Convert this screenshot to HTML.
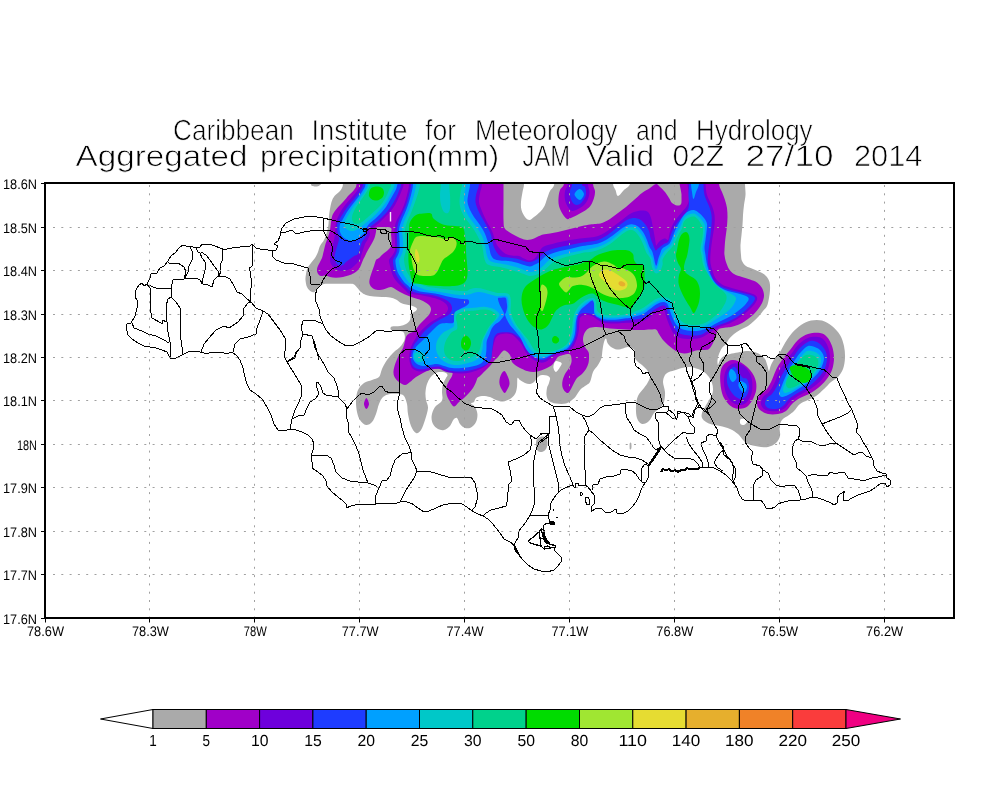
<!DOCTYPE html>
<html lang="en"><head><meta charset="utf-8"><title>Aggregated precipitation(mm) JAM</title>
<style>
html,body{margin:0;padding:0;background:#fff}
svg{display:block}
text{font-family:"Liberation Sans",sans-serif;fill:#000;text-rendering:geometricPrecision}
.ttl{stroke:#fff;stroke-width:.7px}
.lab{font-size:14px}
.cb{font-size:16px}
</style></head><body>
<svg width="1000" height="800" viewBox="0 0 1000 800">
<rect width="1000" height="800" fill="#fff"/>
<defs><filter id="nf" x="0" y="0" width="1000" height="800" filterUnits="userSpaceOnUse"><feOffset dx="0" dy="0"/></filter></defs>
<g filter="url(#nf)">
<text class="ttl" x="173" y="140" font-size="29" textLength="120.8" lengthAdjust="spacingAndGlyphs">Caribbean</text><text class="ttl" x="311.5" y="140" font-size="29" textLength="96.0" lengthAdjust="spacingAndGlyphs">Institute</text><text class="ttl" x="425" y="140" font-size="29" textLength="31.0" lengthAdjust="spacingAndGlyphs">for</text><text class="ttl" x="475" y="140" font-size="29" textLength="142.5" lengthAdjust="spacingAndGlyphs">Meteorology</text><text class="ttl" x="636" y="140" font-size="29" textLength="41.5" lengthAdjust="spacingAndGlyphs">and</text><text class="ttl" x="696" y="140" font-size="29" textLength="116.5" lengthAdjust="spacingAndGlyphs">Hydrology</text>
<text class="ttl" x="75.5" y="166.3" font-size="29.5" textLength="172.0" lengthAdjust="spacingAndGlyphs">Aggregated</text><text class="ttl" x="260" y="166.3" font-size="29.5" textLength="239.0" lengthAdjust="spacingAndGlyphs">precipitation(mm)</text><text class="ttl" x="522.5" y="166.3" font-size="29.5" textLength="47.5" lengthAdjust="spacingAndGlyphs">JAM</text><text class="ttl" x="586" y="166.3" font-size="29.5" textLength="68.0" lengthAdjust="spacingAndGlyphs">Valid</text><text class="ttl" x="672.5" y="166.3" font-size="29.5" textLength="51.5" lengthAdjust="spacingAndGlyphs">02Z</text><text class="ttl" x="745.5" y="166.3" font-size="29.5" textLength="88.0" lengthAdjust="spacingAndGlyphs">27/10</text><text class="ttl" x="854" y="166.3" font-size="29.5" textLength="68.5" lengthAdjust="spacingAndGlyphs">2014</text>
</g>
<defs><clipPath id="fr"><rect x="45" y="183" width="909" height="435"/></clipPath></defs>
<g clip-path="url(#fr)">
<path fill="#aaaaaa" d="M343.0,170.0C276.0,172.4 343.5,181.0 343.0,184.5C342.5,188.0 341.4,189.1 340.0,191.0C338.6,192.9 335.9,194.2 334.5,196.0C333.1,197.8 332.2,199.8 331.5,202.0C330.8,204.2 330.4,206.7 330.0,209.0C329.6,211.3 329.2,213.5 329.0,216.0C328.8,218.5 328.8,221.3 328.5,224.0C328.2,226.7 327.8,229.3 327.0,232.0C326.2,234.7 325.2,237.7 324.0,240.0C322.8,242.3 321.0,244.0 320.0,246.0C319.0,248.0 318.8,250.0 318.0,252.0C317.2,254.0 316.2,256.2 315.0,258.0C313.8,259.8 312.2,261.3 311.0,263.0C309.8,264.7 308.3,266.2 307.5,268.0C306.7,269.8 306.3,272.0 306.0,274.0C305.7,276.0 305.3,277.8 305.5,280.0C305.7,282.2 306.1,285.1 307.0,287.0C307.9,288.9 309.8,290.7 311.0,291.5C312.2,292.3 313.5,292.4 314.5,292.0C315.5,291.6 316.1,290.0 317.0,289.0C317.9,288.0 318.8,286.8 320.0,286.0C321.2,285.2 322.3,284.4 324.0,284.0C325.7,283.6 327.3,283.8 330.0,283.8C332.7,283.8 336.7,283.8 340.0,283.8C343.3,283.8 347.7,283.7 350.0,283.8C352.3,283.9 352.8,283.9 354.0,284.5C355.2,285.1 355.8,286.2 357.0,287.5C358.2,288.8 359.5,290.8 361.0,292.0C362.5,293.2 363.8,294.2 366.0,295.0C368.2,295.8 371.3,296.2 374.0,296.5C376.7,296.8 379.3,296.8 382.0,297.0C384.7,297.2 387.7,297.1 390.0,297.5C392.3,297.9 394.2,298.6 396.0,299.5C397.8,300.4 399.3,302.2 401.0,303.0C402.7,303.8 404.3,304.1 406.0,304.5C407.7,304.9 409.5,305.1 411.0,305.5C412.5,305.9 414.0,306.4 415.0,307.0C416.0,307.6 417.0,308.2 417.0,309.0C417.0,309.8 416.0,310.7 415.0,311.5C414.0,312.3 411.8,312.6 411.0,314.0C410.2,315.4 410.8,318.3 410.0,320.0C409.2,321.7 407.7,323.0 406.0,324.0C404.3,325.0 402.3,325.6 400.0,326.0C397.7,326.4 393.6,326.0 392.0,326.5C390.4,327.0 390.3,328.3 390.5,329.0C390.7,329.7 391.4,330.2 393.0,330.5C394.6,330.8 398.2,330.6 400.0,331.0C401.8,331.4 403.2,331.5 404.0,333.0C404.8,334.5 405.2,337.7 404.5,340.0C403.8,342.3 401.8,345.0 400.0,347.0C398.2,349.0 396.2,349.8 394.0,352.0C391.8,354.2 389.0,357.2 387.0,360.0C385.0,362.8 383.3,366.2 382.0,369.0C380.7,371.8 380.7,375.2 379.0,377.0C377.3,378.8 374.5,379.0 372.0,380.0C369.5,381.0 366.3,381.3 364.0,383.0C361.7,384.7 359.3,387.2 358.0,390.0C356.7,392.8 356.2,396.3 356.0,400.0C355.8,403.7 356.3,408.7 357.0,412.0C357.7,415.3 358.5,417.8 360.0,420.0C361.5,422.2 364.0,424.7 366.0,425.0C368.0,425.3 370.3,423.8 372.0,422.0C373.7,420.2 374.8,417.0 376.0,414.0C377.2,411.0 377.8,406.8 379.0,404.0C380.2,401.2 381.2,398.7 383.0,397.0C384.8,395.3 387.3,394.5 390.0,394.0C392.7,393.5 396.7,393.7 399.0,394.0C401.3,394.3 402.7,394.3 404.0,396.0C405.3,397.7 406.3,401.0 407.0,404.0C407.7,407.0 407.3,410.3 408.0,414.0C408.7,417.7 409.7,422.8 411.0,426.0C412.3,429.2 414.3,432.3 416.0,433.0C417.7,433.7 419.5,432.2 421.0,430.0C422.5,427.8 423.8,423.7 425.0,420.0C426.2,416.3 427.8,411.3 428.0,408.0C428.2,404.7 426.4,402.7 426.0,400.0C425.6,397.3 425.3,394.7 425.5,392.0C425.7,389.3 426.2,386.3 427.0,384.0C427.8,381.7 428.8,379.7 430.0,378.0C431.2,376.3 432.5,375.0 434.0,374.0C435.5,373.0 437.2,372.2 439.0,372.0C440.8,371.8 443.6,372.0 445.0,372.5C446.4,373.0 447.3,374.1 447.5,375.0C447.7,375.9 446.8,376.5 446.0,378.0C445.2,379.5 443.7,381.7 443.0,384.0C442.3,386.3 442.1,389.7 442.0,392.0C441.9,394.3 442.7,396.3 442.5,398.0C442.3,399.7 442.2,400.5 441.0,402.0C439.8,403.5 436.6,404.7 435.0,407.0C433.4,409.3 431.9,413.2 431.6,416.0C431.3,418.8 431.9,421.8 433.0,424.0C434.1,426.2 436.2,428.0 438.0,429.0C439.8,430.0 442.0,430.5 444.0,430.0C446.0,429.5 448.4,427.7 450.0,426.0C451.6,424.3 452.4,420.9 453.6,419.6C454.8,418.3 455.9,417.3 457.0,418.0C458.1,418.7 458.7,422.3 460.0,424.0C461.3,425.7 463.2,427.4 465.0,428.0C466.8,428.6 469.2,428.4 471.0,427.4C472.8,426.4 474.9,424.2 476.0,422.0C477.1,419.8 477.6,416.5 477.4,414.0C477.2,411.5 476.1,408.8 475.0,407.0C473.9,405.2 471.2,404.3 471.0,403.5C470.8,402.7 473.2,402.9 474.0,402.0C474.8,401.1 474.7,399.0 476.0,398.0C477.3,397.0 479.7,396.2 482.0,396.0C484.3,395.8 487.7,396.3 490.0,397.0C492.3,397.7 493.8,399.2 496.0,400.0C498.2,400.8 500.7,401.7 503.0,401.5C505.3,401.3 508.0,400.2 510.0,399.0C512.0,397.8 513.8,396.0 515.0,394.0C516.2,392.0 516.6,389.7 517.0,387.0C517.4,384.3 517.0,379.2 517.5,378.0C518.0,376.8 518.8,379.2 520.0,380.0C521.2,380.8 523.3,382.3 525.0,383.0C526.7,383.7 528.5,384.2 530.0,384.0C531.5,383.8 532.7,383.2 534.0,382.0C535.3,380.8 536.7,378.2 538.0,377.0C539.3,375.8 540.5,375.2 542.0,375.0C543.5,374.8 545.7,375.0 547.0,375.5C548.3,376.0 549.7,376.8 550.0,378.0C550.3,379.2 549.5,381.3 549.0,383.0C548.5,384.7 547.4,386.0 547.0,388.0C546.6,390.0 546.2,392.8 546.5,395.0C546.8,397.2 547.4,399.6 549.0,401.0C550.6,402.4 553.2,403.1 556.0,403.5C558.8,403.9 563.3,404.1 566.0,403.5C568.7,402.9 570.3,401.2 572.0,400.0C573.7,398.8 574.7,397.7 576.0,396.0C577.3,394.3 578.5,391.7 580.0,390.0C581.5,388.3 583.3,387.3 585.0,386.0C586.7,384.7 588.7,384.3 590.0,382.0C591.3,379.7 591.7,374.8 593.0,372.0C594.3,369.2 596.6,367.3 598.0,365.0C599.4,362.7 600.8,360.5 601.5,358.0C602.2,355.5 602.1,352.7 602.5,350.0C602.9,347.3 603.4,343.9 604.0,342.0C604.6,340.1 605.4,338.3 606.0,338.5C606.6,338.7 606.7,341.6 607.5,343.0C608.3,344.4 609.4,345.9 611.0,347.0C612.6,348.1 615.0,349.2 617.0,349.5C619.0,349.8 621.2,348.9 623.0,348.5C624.8,348.1 626.3,346.9 628.0,347.0C629.7,347.1 631.8,348.2 633.0,349.0C634.2,349.8 634.8,350.7 635.0,352.0C635.2,353.3 634.2,355.5 634.5,357.0C634.8,358.5 635.8,359.7 637.0,361.0C638.2,362.3 640.3,363.5 642.0,365.0C643.7,366.5 645.7,368.2 647.0,370.0C648.3,371.8 649.8,374.0 650.0,376.0C650.2,378.0 649.0,380.0 648.0,382.0C647.0,384.0 645.7,385.7 644.0,388.0C642.3,390.3 639.3,393.0 638.0,396.0C636.7,399.0 636.2,402.3 636.0,406.0C635.8,409.7 636.0,415.0 637.0,418.0C638.0,421.0 640.0,423.5 642.0,424.0C644.0,424.5 647.0,422.8 649.0,421.0C651.0,419.2 652.2,415.2 654.0,413.0C655.8,410.8 658.3,409.8 660.0,408.0C661.7,406.2 663.2,404.7 664.0,402.0C664.8,399.3 665.2,395.3 665.0,392.0C664.8,388.7 663.0,384.8 663.0,382.0C663.0,379.2 664.0,376.7 665.0,375.0C666.0,373.3 667.5,372.8 669.0,372.0C670.5,371.2 671.8,371.2 674.0,370.5C676.2,369.8 679.3,368.6 682.0,368.0C684.7,367.4 687.3,366.8 690.0,367.0C692.7,367.2 695.7,368.2 698.0,369.0C700.3,369.8 702.2,370.7 704.0,372.0C705.8,373.3 707.7,375.2 709.0,377.0C710.3,378.8 711.3,381.0 712.0,383.0C712.7,385.0 713.0,387.0 713.0,389.0C713.0,391.0 712.7,393.2 712.0,395.0C711.3,396.8 710.2,398.0 709.0,400.0C707.8,402.0 706.2,404.8 705.0,407.0C703.8,409.2 702.5,411.2 702.0,413.0C701.5,414.8 701.3,416.5 702.0,418.0C702.7,419.5 704.3,420.9 706.0,422.0C707.7,423.1 709.7,423.8 712.0,424.5C714.3,425.2 717.0,425.2 720.0,426.0C723.0,426.8 727.0,427.7 730.0,429.0C733.0,430.3 735.8,432.2 738.0,434.0C740.2,435.8 741.3,438.3 743.0,440.0C744.7,441.7 745.5,442.9 748.0,444.0C750.5,445.1 754.7,446.0 758.0,446.5C761.3,447.0 765.0,447.6 768.0,447.0C771.0,446.4 774.0,444.8 776.0,443.0C778.0,441.2 779.4,438.7 780.0,436.0C780.6,433.3 779.3,429.7 779.6,427.0C779.9,424.3 780.4,422.0 782.0,420.0C783.6,418.0 787.0,416.5 789.0,415.0C791.0,413.5 792.2,412.8 794.0,411.0C795.8,409.2 797.7,405.8 800.0,404.0C802.3,402.2 805.3,401.3 808.0,400.0C810.7,398.7 813.3,397.8 816.0,396.0C818.7,394.2 821.5,391.3 824.0,389.0C826.5,386.7 828.7,384.0 831.0,382.0C833.3,380.0 836.0,379.2 838.0,377.0C840.0,374.8 841.8,372.2 843.0,369.0C844.2,365.8 844.8,361.8 845.0,358.0C845.2,354.2 844.8,349.8 844.0,346.0C843.2,342.2 842.0,338.3 840.0,335.0C838.0,331.7 835.0,328.4 832.0,326.0C829.0,323.6 825.5,321.4 822.0,320.5C818.5,319.6 814.5,319.8 811.0,320.5C807.5,321.2 804.2,322.9 801.0,325.0C797.8,327.1 794.7,330.0 792.0,333.0C789.3,336.0 787.0,339.8 785.0,343.0C783.0,346.2 781.7,349.5 780.0,352.0C778.3,354.5 776.5,355.8 775.0,358.0C773.5,360.2 772.0,362.8 771.0,365.0C770.0,367.2 769.6,370.8 769.0,371.0C768.4,371.2 768.2,368.0 767.5,366.0C766.8,364.0 766.2,360.9 765.0,359.0C763.8,357.1 762.0,355.8 760.0,354.5C758.0,353.2 755.3,352.1 753.0,351.5C750.7,350.9 748.5,350.8 746.0,351.0C743.5,351.2 740.7,352.0 738.0,352.5C735.3,353.0 732.3,353.4 730.0,354.0C727.7,354.6 725.7,355.0 724.0,356.0C722.3,357.0 721.0,358.5 720.0,360.0C719.0,361.5 718.4,365.0 718.0,365.0C717.6,365.0 717.3,361.8 717.5,360.0C717.7,358.2 718.2,356.0 719.0,354.0C719.8,352.0 720.8,349.7 722.0,348.0C723.2,346.3 724.8,345.5 726.0,344.0C727.2,342.5 727.7,340.7 729.0,339.0C730.3,337.3 732.2,335.5 734.0,334.0C735.8,332.5 737.7,331.3 740.0,330.0C742.3,328.7 745.7,327.5 748.0,326.0C750.3,324.5 752.2,322.7 754.0,321.0C755.8,319.3 757.5,317.7 759.0,316.0C760.5,314.3 761.7,312.7 763.0,311.0C764.3,309.3 766.0,308.2 767.0,306.0C768.0,303.8 768.5,300.7 769.0,298.0C769.5,295.3 769.9,292.7 770.0,290.0C770.1,287.3 770.2,284.3 769.5,282.0C768.8,279.7 767.6,277.7 766.0,276.0C764.4,274.3 762.2,273.2 760.0,272.0C757.8,270.8 755.3,270.0 753.0,269.0C750.7,268.0 747.8,267.3 746.0,266.0C744.2,264.7 742.8,262.8 742.0,261.0C741.2,259.2 741.2,257.7 741.0,255.0C740.8,252.3 740.4,248.3 740.5,245.0C740.6,241.7 741.2,238.3 741.5,235.0C741.8,231.7 742.2,228.3 742.5,225.0C742.8,221.7 742.8,218.3 743.0,215.0C743.2,211.7 743.6,208.3 744.0,205.0C744.4,201.7 745.3,198.5 745.5,195.0C745.7,191.5 745.1,188.2 745.0,184.0C744.9,179.8 812.0,172.3 745.0,170.0C678.0,167.7 410.0,167.6 343.0,170.0ZM311.0,170.0C309.3,172.3 310.7,181.3 311.0,184.0C311.3,186.7 312.0,185.6 313.0,186.0C314.0,186.4 315.8,186.7 317.0,186.5C318.2,186.3 319.3,185.6 320.0,185.0C320.7,184.4 320.8,185.5 321.0,183.0C321.2,180.5 322.7,172.2 321.0,170.0C319.3,167.8 312.7,167.7 311.0,170.0ZM537.0,439.0C538.0,437.4 540.5,436.7 542.0,436.5C543.5,436.3 545.1,436.9 546.0,438.0C546.9,439.1 547.5,441.2 547.5,443.0C547.5,444.8 546.9,447.5 546.0,449.0C545.1,450.5 543.3,451.7 542.0,452.0C540.7,452.3 539.0,452.0 538.0,451.0C537.0,450.0 536.2,448.0 536.0,446.0C535.8,444.0 536.0,440.6 537.0,439.0ZM629.8,443.0C630.1,442.3 630.9,442.2 631.2,443.0C631.5,443.8 631.6,446.9 631.4,448.0C631.2,449.1 630.3,449.7 630.0,449.5C629.7,449.3 629.6,448.1 629.6,447.0C629.6,445.9 629.5,443.7 629.8,443.0Z"/>
<path fill="#ffffff" d="M524.0,170.0C518.8,172.3 524.2,180.3 524.0,184.0C523.8,187.7 523.0,189.0 522.5,192.0C522.0,195.0 521.2,199.0 521.0,202.0C520.8,205.0 520.8,207.5 521.5,210.0C522.2,212.5 523.7,215.3 525.0,217.0C526.3,218.7 528.0,220.0 529.5,220.0C531.0,220.0 532.2,218.3 534.0,217.0C535.8,215.7 538.2,213.8 540.0,212.0C541.8,210.2 543.3,208.2 544.5,206.0C545.7,203.8 546.1,201.5 547.0,199.0C547.9,196.5 548.8,193.3 550.0,191.0C551.2,188.7 553.1,188.5 554.0,185.0C554.9,181.5 560.5,172.5 555.5,170.0C550.5,167.5 529.2,167.7 524.0,170.0ZM613.0,170.0C610.2,172.3 612.6,180.7 613.0,184.0C613.4,187.3 614.7,188.0 615.5,190.0C616.3,192.0 616.6,196.0 618.0,196.0C619.4,196.0 622.0,192.0 624.0,190.0C626.0,188.0 629.0,187.3 630.0,184.0C631.0,180.7 632.8,172.3 630.0,170.0C627.2,167.7 615.8,167.7 613.0,170.0ZM556.0,361.0C557.2,360.8 560.8,362.0 561.5,363.0C562.2,364.0 560.9,365.5 560.0,367.0C559.1,368.5 557.1,371.8 556.0,372.0C554.9,372.2 553.8,369.3 553.5,368.0C553.2,366.7 553.6,365.2 554.0,364.0C554.4,362.8 554.8,361.2 556.0,361.0ZM741.0,419.0C741.8,418.7 744.0,418.5 745.0,419.0C746.0,419.5 747.2,421.0 747.0,422.0C746.8,423.0 745.1,424.7 744.0,425.0C742.9,425.3 741.2,424.7 740.5,424.0C739.8,423.3 739.9,421.8 740.0,421.0C740.1,420.2 740.2,419.3 741.0,419.0Z"/>
<path fill="#a000c8" d="M356.5,170.0C332.0,172.4 356.9,181.2 356.5,184.5C356.1,187.8 355.2,188.2 354.0,190.0C352.8,191.8 350.8,193.0 349.0,195.0C347.2,197.0 345.1,199.7 343.0,202.0C340.9,204.3 338.2,206.8 336.5,209.0C334.8,211.2 333.4,212.8 332.5,215.0C331.6,217.2 331.4,219.5 331.0,222.0C330.6,224.5 330.5,227.5 330.0,230.0C329.5,232.5 328.8,234.7 328.0,237.0C327.2,239.3 326.2,241.5 325.5,244.0C324.8,246.5 324.1,249.7 323.5,252.0C322.9,254.3 322.7,256.2 322.0,258.0C321.3,259.8 320.2,261.5 319.5,263.0C318.8,264.5 317.9,265.7 317.5,267.0C317.1,268.3 316.8,269.8 317.0,271.0C317.2,272.2 317.8,273.7 318.5,274.5C319.2,275.3 319.8,275.8 321.0,276.0C322.2,276.2 324.5,275.3 326.0,275.5C327.5,275.7 328.3,276.6 330.0,277.0C331.7,277.4 333.8,277.8 336.0,277.8C338.2,277.8 340.7,277.5 343.0,277.0C345.3,276.5 348.0,275.8 350.0,275.0C352.0,274.2 353.5,273.5 355.0,272.5C356.5,271.5 358.0,270.2 359.0,269.0C360.0,267.8 360.3,266.5 361.0,265.0C361.7,263.5 362.3,261.5 363.0,260.0C363.7,258.5 364.2,257.7 365.0,256.0C365.8,254.3 366.9,252.0 368.0,250.0C369.1,248.0 370.4,246.0 371.5,244.0C372.6,242.0 373.8,240.0 374.5,238.0C375.2,236.0 375.6,233.8 376.0,232.0C376.4,230.2 375.7,228.3 377.0,227.5C378.3,226.7 381.7,226.9 384.0,227.0C386.3,227.1 389.8,226.8 391.0,228.0C392.2,229.2 390.9,232.0 391.0,234.0C391.1,236.0 391.5,238.0 391.5,240.0C391.5,242.0 391.6,244.3 391.0,246.0C390.4,247.7 389.3,248.7 388.0,250.0C386.7,251.3 384.5,252.7 383.0,254.0C381.5,255.3 380.2,257.0 379.0,258.0C377.8,259.0 376.8,258.7 376.0,260.0C375.2,261.3 374.8,263.8 374.0,266.0C373.2,268.2 372.2,270.7 371.5,273.0C370.8,275.3 369.8,278.0 369.5,280.0C369.2,282.0 369.2,283.5 370.0,285.0C370.8,286.5 372.3,288.2 374.0,289.0C375.7,289.8 378.0,290.1 380.0,290.0C382.0,289.9 384.2,289.0 386.0,288.5C387.8,288.0 389.5,286.9 391.0,287.0C392.5,287.1 393.5,288.2 395.0,289.0C396.5,289.8 398.3,291.1 400.0,292.0C401.7,292.9 403.3,293.8 405.0,294.5C406.7,295.2 408.2,295.8 410.0,296.5C411.8,297.2 413.8,297.8 416.0,298.5C418.2,299.2 420.8,299.9 423.0,301.0C425.2,302.1 427.7,303.7 429.0,305.0C430.3,306.3 430.9,307.5 431.0,309.0C431.1,310.5 430.5,312.3 429.5,314.0C428.5,315.7 426.6,317.3 425.0,319.0C423.4,320.7 421.5,322.3 420.0,324.0C418.5,325.7 417.2,327.7 416.0,329.0C414.8,330.3 414.0,331.3 413.0,332.0C412.0,332.7 411.1,332.3 410.0,333.0C408.9,333.7 407.3,334.7 406.5,336.0C405.7,337.3 405.6,339.0 405.0,341.0C404.4,343.0 404.0,345.7 403.0,348.0C402.0,350.3 400.2,352.5 399.0,355.0C397.8,357.5 396.4,360.3 395.5,363.0C394.6,365.7 393.7,368.7 393.5,371.0C393.3,373.3 393.6,375.2 394.5,377.0C395.4,378.8 397.2,380.7 399.0,382.0C400.8,383.3 403.2,385.0 405.0,385.0C406.8,385.0 408.2,383.3 410.0,382.0C411.8,380.7 413.8,378.5 416.0,377.0C418.2,375.5 420.7,374.2 423.0,373.0C425.3,371.8 427.5,370.8 430.0,370.0C432.5,369.2 435.3,368.7 438.0,368.5C440.7,368.3 444.0,368.8 446.0,369.0C448.0,369.2 448.9,369.5 450.0,370.0C451.1,370.5 452.2,371.0 452.5,372.0C452.8,373.0 452.6,374.5 452.0,376.0C451.4,377.5 449.9,379.2 449.0,381.0C448.1,382.8 446.9,384.8 446.5,387.0C446.1,389.2 446.1,391.8 446.5,394.0C446.9,396.2 447.8,397.9 449.0,400.0C450.2,402.1 452.3,406.2 454.0,406.5C455.7,406.8 457.3,403.4 459.0,402.0C460.7,400.6 462.3,399.5 464.0,398.0C465.7,396.5 467.5,394.7 469.0,393.0C470.5,391.3 471.8,389.8 473.0,388.0C474.2,386.2 475.2,383.7 476.0,382.0C476.8,380.3 476.8,379.0 477.5,378.0C478.2,377.0 478.8,377.2 480.0,376.0C481.2,374.8 483.3,372.7 485.0,371.0C486.7,369.3 488.5,367.7 490.0,366.0C491.5,364.3 492.7,362.5 494.0,361.0C495.3,359.5 496.3,358.8 498.0,357.0C499.7,355.2 502.0,350.8 504.0,350.5C506.0,350.2 508.8,353.2 510.0,355.0C511.2,356.8 510.7,359.3 511.5,361.0C512.3,362.7 513.6,363.8 515.0,365.0C516.4,366.2 518.0,367.0 520.0,368.0C522.0,369.0 524.7,370.3 527.0,371.0C529.3,371.7 531.7,372.1 534.0,372.0C536.3,371.9 538.8,371.2 541.0,370.5C543.2,369.8 545.2,368.9 547.0,368.0C548.8,367.1 550.7,366.2 552.0,365.0C553.3,363.8 554.0,362.3 555.0,361.0C556.0,359.7 556.7,358.0 558.0,357.0C559.3,356.0 561.2,355.5 563.0,355.0C564.8,354.5 567.7,353.8 569.0,354.0C570.3,354.2 570.6,354.7 571.0,356.0C571.4,357.3 571.8,360.0 571.5,362.0C571.2,364.0 570.1,366.0 569.0,368.0C567.9,370.0 566.1,371.8 565.0,374.0C563.9,376.2 562.9,378.8 562.5,381.0C562.1,383.2 562.1,385.2 562.5,387.0C562.9,388.8 564.1,390.5 565.0,391.5C565.9,392.5 567.0,393.4 568.0,393.0C569.0,392.6 570.0,390.7 571.0,389.0C572.0,387.3 573.0,384.8 574.0,383.0C575.0,381.2 575.7,379.5 577.0,378.0C578.3,376.5 580.5,375.5 582.0,374.0C583.5,372.5 584.9,370.8 586.0,369.0C587.1,367.2 588.0,365.0 588.5,363.0C589.0,361.0 589.0,358.8 589.0,357.0C589.0,355.2 589.2,353.7 588.5,352.0C587.8,350.3 585.9,349.0 585.0,347.0C584.1,345.0 583.1,342.3 583.0,340.0C582.9,337.7 583.6,334.9 584.5,333.0C585.4,331.1 586.8,329.5 588.5,328.5C590.2,327.5 592.6,327.2 595.0,327.0C597.4,326.8 600.5,327.2 603.0,327.5C605.5,327.8 607.5,328.2 610.0,328.5C612.5,328.8 615.3,328.8 618.0,329.0C620.7,329.2 623.3,329.3 626.0,329.5C628.7,329.7 631.3,329.9 634.0,330.0C636.7,330.1 639.3,330.1 642.0,330.0C644.7,329.9 647.7,329.6 650.0,329.5C652.3,329.4 654.5,328.8 656.0,329.5C657.5,330.2 657.8,332.2 659.0,334.0C660.2,335.8 661.5,338.2 663.0,340.0C664.5,341.8 666.3,343.5 668.0,345.0C669.7,346.5 671.3,347.8 673.0,349.0C674.7,350.2 676.2,351.2 678.0,352.0C679.8,352.8 682.0,353.4 684.0,353.5C686.0,353.6 688.0,353.0 690.0,352.5C692.0,352.0 693.8,350.9 696.0,350.5C698.2,350.1 700.8,350.2 703.0,350.0C705.2,349.8 707.3,350.2 709.0,349.0C710.7,347.8 711.8,345.2 713.0,343.0C714.2,340.8 715.3,338.0 716.0,336.0C716.7,334.0 716.3,332.2 717.0,331.0C717.7,329.8 718.5,329.1 720.0,328.5C721.5,327.9 724.2,327.8 726.0,327.5C727.8,327.2 728.7,327.6 731.0,327.0C733.3,326.4 737.2,325.3 740.0,324.0C742.8,322.7 745.7,320.7 748.0,319.0C750.3,317.3 752.2,315.8 754.0,314.0C755.8,312.2 757.6,310.0 759.0,308.0C760.4,306.0 761.7,304.2 762.5,302.0C763.3,299.8 764.1,297.3 764.0,295.0C763.9,292.7 763.2,290.1 762.0,288.0C760.8,285.9 759.0,283.9 757.0,282.5C755.0,281.1 752.5,280.4 750.0,279.5C747.5,278.6 744.7,277.9 742.0,277.0C739.3,276.1 736.2,275.3 734.0,274.0C731.8,272.7 730.3,271.0 729.0,269.0C727.7,267.0 726.8,264.3 726.0,262.0C725.2,259.7 724.8,257.0 724.5,255.0C724.2,253.0 724.4,252.2 724.5,250.0C724.6,247.8 724.8,244.7 725.0,242.0C725.2,239.3 725.7,236.7 726.0,234.0C726.3,231.3 726.8,228.8 727.0,226.0C727.2,223.2 727.5,220.0 727.5,217.0C727.5,214.0 727.4,210.8 727.0,208.0C726.6,205.2 725.8,202.7 725.0,200.0C724.2,197.3 723.0,194.7 722.0,192.0C721.0,189.3 719.5,187.7 719.0,184.0C718.5,180.3 725.2,172.3 719.0,170.0C712.8,167.7 687.8,165.8 681.5,170.0C675.2,174.2 681.6,189.3 681.5,195.0C681.4,200.7 681.8,202.2 681.0,204.0C680.2,205.8 678.5,205.7 677.0,205.5C675.5,205.3 673.3,204.2 672.0,203.0C670.7,201.8 670.2,199.8 669.0,198.0C667.8,196.2 666.5,193.8 665.0,192.0C663.5,190.2 661.5,188.3 660.0,187.0C658.5,185.7 657.7,183.8 656.0,184.0C654.3,184.2 652.3,186.5 650.0,188.0C647.7,189.5 644.7,191.0 642.0,193.0C639.3,195.0 636.7,197.7 634.0,200.0C631.3,202.3 628.7,204.8 626.0,207.0C623.3,209.2 620.7,211.0 618.0,213.0C615.3,215.0 612.7,217.3 610.0,219.0C607.3,220.7 604.3,222.2 602.0,223.0C599.7,223.8 598.0,223.8 596.0,224.0C594.0,224.2 592.3,224.2 590.0,224.5C587.7,224.8 584.7,225.4 582.0,226.0C579.3,226.6 576.7,227.3 574.0,228.0C571.3,228.7 568.7,229.3 566.0,230.0C563.3,230.7 560.7,231.4 558.0,232.0C555.3,232.6 552.5,233.1 550.0,233.5C547.5,233.9 545.2,233.9 543.0,234.5C540.8,235.1 539.0,236.2 537.0,237.0C535.0,237.8 533.2,239.1 531.0,239.5C528.8,239.9 526.5,240.1 524.0,239.5C521.5,238.9 518.5,237.2 516.0,236.0C513.5,234.8 510.9,233.3 509.0,232.0C507.1,230.7 505.4,230.0 504.5,228.0C503.6,226.0 503.7,224.7 503.5,220.0C503.3,215.3 503.5,206.0 503.5,200.0C503.5,194.0 503.5,189.0 503.5,184.0C503.5,179.0 528.0,172.3 503.5,170.0C479.0,167.7 381.0,167.6 356.5,170.0ZM564.0,170.0C559.2,172.3 564.7,180.7 564.0,184.0C563.3,187.3 560.9,187.7 560.0,190.0C559.1,192.3 558.7,195.3 558.5,198.0C558.3,200.7 558.4,203.5 559.0,206.0C559.6,208.5 560.7,210.8 562.0,213.0C563.3,215.2 565.3,218.2 567.0,219.0C568.7,219.8 570.0,218.3 572.0,217.5C574.0,216.7 576.7,215.2 579.0,214.0C581.3,212.8 584.0,211.5 586.0,210.0C588.0,208.5 589.7,207.0 591.0,205.0C592.3,203.0 593.3,200.3 594.0,198.0C594.7,195.7 595.2,193.3 595.0,191.0C594.8,188.7 593.3,187.5 593.0,184.0C592.7,180.5 597.8,172.3 593.0,170.0C588.2,167.7 568.8,167.7 564.0,170.0ZM504.4,371.0C505.6,371.2 507.1,374.8 508.0,377.0C508.9,379.2 509.7,381.8 509.5,384.0C509.3,386.2 507.8,388.5 507.0,390.0C506.2,391.5 505.4,393.2 504.5,393.0C503.6,392.8 502.4,390.7 501.5,389.0C500.6,387.3 499.6,385.2 499.4,383.0C499.2,380.8 499.7,378.0 500.5,376.0C501.3,374.0 503.1,370.8 504.4,371.0ZM366.4,398.0C367.2,398.0 369.0,402.2 369.0,404.0C369.0,405.8 367.2,409.0 366.4,409.0C365.6,409.0 364.0,405.8 364.0,404.0C364.0,402.2 365.6,398.0 366.4,398.0ZM732.0,360.0C730.0,360.2 727.7,361.3 726.0,362.5C724.3,363.7 723.0,365.1 722.0,367.0C721.0,368.9 720.6,371.5 720.3,374.0C720.0,376.5 720.1,379.3 720.3,382.0C720.5,384.7 720.7,387.3 721.3,390.0C721.9,392.7 722.5,395.4 724.0,398.0C725.5,400.6 728.0,403.8 730.0,405.5C732.0,407.2 734.0,408.0 736.0,408.5C738.0,409.0 740.0,408.9 742.0,408.5C744.0,408.1 746.2,407.6 748.0,406.0C749.8,404.4 751.7,401.5 753.0,399.0C754.3,396.5 755.5,393.7 756.0,391.0C756.5,388.3 756.5,385.5 756.2,383.0C755.9,380.5 755.0,378.2 754.0,376.0C753.0,373.8 751.7,371.9 750.0,370.0C748.3,368.1 746.0,366.0 744.0,364.5C742.0,363.0 740.0,361.8 738.0,361.0C736.0,360.2 734.0,359.8 732.0,360.0ZM808.0,334.0C804.3,335.2 801.0,337.3 798.0,340.0C795.0,342.7 792.7,346.7 790.0,350.0C787.3,353.3 784.3,356.7 782.0,360.0C779.7,363.3 777.8,366.3 776.0,370.0C774.2,373.7 772.7,378.7 771.0,382.0C769.3,385.3 768.0,387.7 766.0,390.0C764.0,392.3 760.5,393.7 759.0,396.0C757.5,398.3 756.8,401.7 757.0,404.0C757.2,406.3 758.2,408.3 760.0,410.0C761.8,411.7 765.0,413.3 768.0,414.0C771.0,414.7 775.0,414.5 778.0,414.0C781.0,413.5 783.7,412.7 786.0,411.0C788.3,409.3 789.7,406.2 792.0,404.0C794.3,401.8 797.2,399.7 800.0,398.0C802.8,396.3 806.0,395.7 809.0,394.0C812.0,392.3 815.2,390.3 818.0,388.0C820.8,385.7 823.7,383.0 826.0,380.0C828.3,377.0 830.7,373.7 832.0,370.0C833.3,366.3 834.0,362.0 834.0,358.0C834.0,354.0 833.2,349.5 832.0,346.0C830.8,342.5 829.0,339.2 827.0,337.0C825.0,334.8 823.2,333.5 820.0,333.0C816.8,332.5 811.7,332.8 808.0,334.0Z"/>
<path fill="#6e00dc" d="M360.0,170.0C352.8,172.4 360.5,181.0 360.0,184.5C359.5,188.0 358.3,188.9 357.0,191.0C355.7,193.1 353.8,194.8 352.0,197.0C350.2,199.2 347.8,201.7 346.0,204.0C344.2,206.3 342.3,208.8 341.0,211.0C339.7,213.2 338.8,215.2 338.0,217.0C337.2,218.8 336.4,220.2 336.0,222.0C335.6,223.8 335.7,226.0 335.5,228.0C335.3,230.0 335.2,232.0 335.0,234.0C334.8,236.0 334.4,238.0 334.0,240.0C333.6,242.0 333.1,244.0 332.5,246.0C331.9,248.0 330.9,249.7 330.5,252.0C330.1,254.3 329.9,258.0 330.0,260.0C330.1,262.0 330.3,262.7 331.0,264.0C331.7,265.3 332.7,266.9 334.0,268.0C335.3,269.1 337.2,270.1 339.0,270.5C340.8,270.9 343.0,270.8 345.0,270.5C347.0,270.2 349.3,269.4 351.0,268.5C352.7,267.6 353.8,266.1 355.0,265.0C356.2,263.9 357.2,262.8 358.0,262.0C358.8,261.2 359.5,261.0 360.0,260.0C360.5,259.0 360.5,257.7 361.0,256.0C361.5,254.3 362.3,252.0 363.0,250.0C363.7,248.0 364.2,245.8 365.0,244.0C365.8,242.2 367.2,240.7 368.0,239.0C368.8,237.3 369.8,235.5 370.0,234.0C370.2,232.5 368.7,231.0 369.0,230.0C369.3,229.0 370.5,229.0 372.0,228.0C373.5,227.0 376.2,225.5 378.0,224.0C379.8,222.5 381.0,221.0 383.0,219.0C385.0,217.0 388.0,214.3 390.0,212.0C392.0,209.7 393.6,207.3 395.0,205.0C396.4,202.7 397.4,200.3 398.5,198.0C399.6,195.7 400.7,193.2 401.5,191.0C402.3,188.8 403.2,188.0 403.5,184.5C403.8,181.0 410.8,172.4 403.5,170.0C396.2,167.6 367.2,167.6 360.0,170.0ZM409.0,170.0C396.8,172.4 409.3,180.3 409.0,184.5C408.7,188.7 407.8,191.6 407.0,195.0C406.2,198.4 405.2,201.8 404.0,205.0C402.8,208.2 401.3,211.2 400.0,214.0C398.7,216.8 396.9,219.3 396.0,222.0C395.1,224.7 394.7,227.0 394.5,230.0C394.3,233.0 394.9,236.7 395.0,240.0C395.1,243.3 395.5,247.3 395.0,250.0C394.5,252.7 393.0,254.3 392.0,256.0C391.0,257.7 389.3,258.3 389.0,260.0C388.7,261.7 389.6,264.0 390.0,266.0C390.4,268.0 390.9,270.2 391.5,272.0C392.1,273.8 392.6,275.3 393.5,277.0C394.4,278.7 395.6,280.3 397.0,282.0C398.4,283.7 400.5,285.5 402.0,287.0C403.5,288.5 404.7,289.8 406.0,291.0C407.3,292.2 407.7,293.3 410.0,294.0C412.3,294.7 416.7,294.5 420.0,295.0C423.3,295.5 426.7,296.2 430.0,297.0C433.3,297.8 437.3,298.8 440.0,300.0C442.7,301.2 444.7,302.5 446.0,304.0C447.3,305.5 448.2,307.3 448.0,309.0C447.8,310.7 446.7,312.5 445.0,314.0C443.3,315.5 440.3,316.7 438.0,318.0C435.7,319.3 433.2,320.5 431.0,322.0C428.8,323.5 426.8,325.3 425.0,327.0C423.2,328.7 421.3,330.5 420.0,332.0C418.7,333.5 418.0,334.5 417.0,336.0C416.0,337.5 415.0,339.2 414.0,341.0C413.0,342.8 411.8,344.8 411.0,347.0C410.2,349.2 409.8,351.7 409.5,354.0C409.2,356.3 409.2,359.0 409.5,361.0C409.8,363.0 410.4,364.7 411.0,366.0C411.6,367.3 411.7,368.1 413.0,369.0C414.3,369.9 416.8,371.2 419.0,371.5C421.2,371.8 423.7,371.4 426.0,371.0C428.3,370.6 430.7,369.3 433.0,369.0C435.3,368.7 438.0,368.6 440.0,369.0C442.0,369.4 442.8,370.8 445.0,371.5C447.2,372.2 450.2,372.7 453.0,373.0C455.8,373.3 459.2,373.6 462.0,373.5C464.8,373.4 467.3,373.1 470.0,372.5C472.7,371.9 475.7,370.9 478.0,370.0C480.3,369.1 482.2,368.2 484.0,367.0C485.8,365.8 487.2,364.7 488.5,363.0C489.8,361.3 490.8,359.2 491.5,357.0C492.2,354.8 492.1,352.3 492.5,350.0C492.9,347.7 493.4,345.1 494.0,343.0C494.6,340.9 495.1,338.8 495.9,337.5C496.7,336.2 497.6,335.6 498.7,335.0C499.8,334.4 500.9,334.2 502.2,334.0C503.5,333.8 504.9,333.6 506.4,333.6C507.9,333.7 509.9,333.8 511.3,334.3C512.7,334.8 513.7,335.9 514.8,336.8C515.9,337.8 516.8,338.6 518.0,340.0C519.2,341.4 520.8,343.2 522.0,345.0C523.2,346.8 523.8,349.2 525.0,351.0C526.2,352.8 527.5,354.5 529.0,356.0C530.5,357.5 532.2,358.9 534.0,360.0C535.8,361.1 538.2,362.2 540.0,362.5C541.8,362.8 543.3,362.6 545.0,362.0C546.7,361.4 548.5,360.0 550.0,359.0C551.5,358.0 552.5,356.8 554.0,356.0C555.5,355.2 557.3,354.5 559.0,354.0C560.7,353.5 562.3,353.5 564.0,353.0C565.7,352.5 567.5,352.0 569.0,351.0C570.5,350.0 571.8,348.7 573.0,347.0C574.2,345.3 575.2,343.0 576.0,341.0C576.8,339.0 577.5,337.0 578.0,335.0C578.5,333.0 578.8,331.0 579.0,329.0C579.2,327.0 579.1,324.8 579.3,323.0C579.5,321.2 579.4,319.2 580.0,318.0C580.6,316.8 581.7,316.0 583.0,315.5C584.3,315.0 586.3,314.8 588.0,315.0C589.7,315.2 591.5,315.8 593.0,316.5C594.5,317.2 595.5,318.6 597.0,319.5C598.5,320.4 600.2,321.6 602.0,322.2C603.8,322.8 606.0,323.0 608.0,323.2C610.0,323.4 612.0,323.4 614.0,323.4C616.0,323.4 617.7,323.3 620.0,323.2C622.3,323.1 625.5,322.9 628.0,322.8C630.5,322.7 632.5,322.8 635.0,322.5C637.5,322.2 640.5,321.9 643.0,321.0C645.5,320.1 647.7,318.6 650.0,317.0C652.3,315.4 655.0,312.8 657.0,311.5C659.0,310.2 660.8,309.1 662.0,309.0C663.2,308.9 663.8,309.8 664.5,311.0C665.2,312.2 665.4,314.2 666.0,316.0C666.6,317.8 667.2,320.0 668.0,322.0C668.8,324.0 669.5,326.0 670.5,328.0C671.5,330.0 672.4,332.3 674.0,334.0C675.6,335.7 677.3,337.2 680.0,338.0C682.7,338.8 686.7,339.0 690.0,339.0C693.3,339.0 697.2,338.8 700.0,338.0C702.8,337.2 704.8,335.8 707.0,334.5C709.2,333.2 710.8,331.8 713.0,330.5C715.2,329.2 717.8,327.7 720.5,326.5C723.2,325.3 726.7,324.8 729.5,323.5C732.3,322.2 735.0,320.6 737.5,319.0C740.0,317.4 742.3,315.8 744.5,314.0C746.7,312.2 748.8,310.2 750.5,308.5C752.2,306.8 753.9,305.2 755.0,303.5C756.1,301.8 757.2,299.9 757.2,298.5C757.2,297.1 756.5,296.0 755.0,295.0C753.5,294.0 750.7,293.3 748.0,292.5C745.3,291.7 742.0,290.8 739.0,290.0C736.0,289.2 732.8,288.4 730.0,287.5C727.2,286.6 724.3,285.9 722.0,284.5C719.7,283.1 717.6,281.2 716.0,279.0C714.4,276.8 713.4,273.7 712.5,271.0C711.6,268.3 710.8,265.7 710.5,263.0C710.2,260.3 710.3,258.0 710.5,255.0C710.7,252.0 711.1,248.3 711.5,245.0C711.9,241.7 712.5,238.3 713.0,235.0C713.5,231.7 714.2,228.3 714.5,225.0C714.8,221.7 714.9,218.2 714.5,215.0C714.1,211.8 713.2,209.3 712.0,206.0C710.8,202.7 708.1,198.7 707.0,195.0C705.9,191.3 705.8,188.2 705.5,184.0C705.2,179.8 708.5,172.3 705.5,170.0C702.5,167.7 690.5,167.7 687.5,170.0C684.5,172.3 687.3,180.5 687.5,184.0C687.7,187.5 688.2,188.3 688.5,191.0C688.8,193.7 689.3,197.4 689.0,200.0C688.7,202.6 687.7,204.5 686.5,206.5C685.3,208.5 683.6,210.1 682.0,212.0C680.4,213.9 678.5,216.0 677.0,218.0C675.5,220.0 674.1,222.0 673.0,224.0C671.9,226.0 671.2,228.0 670.5,230.0C669.8,232.0 669.4,234.3 669.0,236.0C668.6,237.7 668.7,239.6 668.0,240.0C667.3,240.4 666.2,238.5 665.0,238.5C663.8,238.5 662.2,239.2 661.0,240.0C659.8,240.8 658.8,242.1 658.0,243.0C657.2,243.9 656.7,246.0 656.2,245.5C655.7,245.0 655.6,242.1 655.2,240.0C654.8,237.9 654.5,235.5 654.0,233.0C653.5,230.5 653.0,227.5 652.5,225.0C652.0,222.5 651.8,220.2 651.0,218.0C650.2,215.8 649.5,213.2 648.0,212.0C646.5,210.8 644.3,210.5 642.0,210.5C639.7,210.5 636.5,211.1 634.0,212.0C631.5,212.9 629.3,214.4 627.0,216.0C624.7,217.6 622.5,219.6 620.0,221.5C617.5,223.4 614.5,225.7 612.0,227.5C609.5,229.3 607.3,231.1 605.0,232.5C602.7,233.9 600.5,235.2 598.0,236.0C595.5,236.8 593.0,237.1 590.0,237.5C587.0,237.9 583.3,238.1 580.0,238.5C576.7,238.9 573.3,239.4 570.0,240.0C566.7,240.6 563.3,241.2 560.0,242.0C556.7,242.8 552.8,243.7 550.0,244.5C547.2,245.3 544.8,245.8 543.0,247.0C541.2,248.2 540.2,250.3 539.0,252.0C537.8,253.7 537.0,255.8 536.0,257.0C535.0,258.2 534.2,258.9 533.0,259.5C531.8,260.1 530.5,260.7 529.0,260.5C527.5,260.3 525.7,259.2 524.0,258.5C522.3,257.8 521.0,256.5 519.0,256.0C517.0,255.5 514.2,255.8 512.0,255.5C509.8,255.2 507.8,254.9 506.0,254.0C504.2,253.1 502.5,251.5 501.0,250.0C499.5,248.5 498.0,246.7 497.0,245.0C496.0,243.3 495.6,241.7 495.0,240.0C494.4,238.3 494.2,236.8 493.5,235.0C492.8,233.2 492.0,231.0 491.0,229.0C490.0,227.0 488.6,225.0 487.5,223.0C486.4,221.0 485.5,219.2 484.5,217.0C483.5,214.8 482.4,212.5 481.5,210.0C480.6,207.5 479.2,204.8 479.0,202.0C478.8,199.2 479.5,195.9 480.0,193.0C480.5,190.1 481.7,188.3 482.0,184.5C482.3,180.7 494.2,172.4 482.0,170.0C469.8,167.6 421.2,167.6 409.0,170.0ZM568.0,170.0C564.7,172.3 568.5,180.5 568.0,184.0C567.5,187.5 565.5,188.3 565.0,191.0C564.5,193.7 564.5,197.3 565.0,200.0C565.5,202.7 566.8,205.2 568.0,207.0C569.2,208.8 570.3,210.7 572.0,211.0C573.7,211.3 576.0,210.0 578.0,209.0C580.0,208.0 582.3,206.7 584.0,205.0C585.7,203.3 587.1,201.2 588.0,199.0C588.9,196.8 589.5,194.5 589.5,192.0C589.5,189.5 588.2,187.7 588.0,184.0C587.8,180.3 591.3,172.3 588.0,170.0C584.7,167.7 571.3,167.7 568.0,170.0ZM732.0,364.0C729.7,365.0 727.3,367.3 726.0,370.0C724.7,372.7 724.2,376.7 724.0,380.0C723.8,383.3 724.2,386.8 725.0,390.0C725.8,393.2 727.3,396.7 729.0,399.0C730.7,401.3 733.0,403.0 735.0,404.0C737.0,405.0 739.0,405.3 741.0,405.0C743.0,404.7 745.3,403.7 747.0,402.0C748.7,400.3 750.1,397.7 751.0,395.0C751.9,392.3 752.4,389.2 752.4,386.0C752.4,382.8 752.1,379.0 751.0,376.0C749.9,373.0 747.8,370.0 746.0,368.0C744.2,366.0 742.3,364.7 740.0,364.0C737.7,363.3 734.3,363.0 732.0,364.0ZM808.0,338.0C804.8,339.2 801.7,341.5 799.0,344.0C796.3,346.5 794.3,350.0 792.0,353.0C789.7,356.0 787.2,358.8 785.0,362.0C782.8,365.2 780.8,368.3 779.0,372.0C777.2,375.7 775.7,380.7 774.0,384.0C772.3,387.3 770.8,389.8 769.0,392.0C767.2,394.2 764.3,395.0 763.0,397.0C761.7,399.0 760.8,402.0 761.0,404.0C761.2,406.0 762.5,407.8 764.0,409.0C765.5,410.2 767.7,410.7 770.0,411.0C772.3,411.3 775.5,411.5 778.0,411.0C780.5,410.5 783.0,409.5 785.0,408.0C787.0,406.5 787.8,404.0 790.0,402.0C792.2,400.0 795.2,397.8 798.0,396.0C800.8,394.2 804.0,392.8 807.0,391.0C810.0,389.2 813.3,387.2 816.0,385.0C818.7,382.8 821.0,380.7 823.0,378.0C825.0,375.3 826.8,372.3 828.0,369.0C829.2,365.7 829.9,361.5 830.0,358.0C830.1,354.5 829.4,351.0 828.4,348.0C827.4,345.0 825.7,341.8 824.0,340.0C822.3,338.2 820.7,337.3 818.0,337.0C815.3,336.7 811.2,336.8 808.0,338.0Z"/>
<path fill="#1e3cff" d="M363.0,170.0C356.7,172.4 363.5,181.0 363.0,184.5C362.5,188.0 361.3,188.8 360.0,191.0C358.7,193.2 356.8,195.7 355.0,198.0C353.2,200.3 350.8,202.7 349.0,205.0C347.2,207.3 345.5,209.8 344.0,212.0C342.5,214.2 341.1,216.7 340.0,218.5C338.9,220.3 338.0,221.4 337.5,223.0C337.0,224.6 336.9,226.2 337.0,228.0C337.1,229.8 337.7,232.2 338.0,234.0C338.3,235.8 339.1,237.2 339.0,239.0C338.9,240.8 338.1,242.8 337.5,245.0C336.9,247.2 336.0,249.8 335.5,252.0C335.0,254.2 334.4,256.2 334.5,258.0C334.6,259.8 335.2,261.2 336.0,262.5C336.8,263.8 337.8,265.1 339.0,265.5C340.2,265.9 341.8,265.6 343.0,265.0C344.2,264.4 344.8,263.0 346.0,262.0C347.2,261.0 348.7,260.0 350.0,259.0C351.3,258.0 352.7,256.8 354.0,256.0C355.3,255.2 357.0,255.3 358.0,254.0C359.0,252.7 359.3,250.0 360.0,248.0C360.7,246.0 361.2,243.7 362.0,242.0C362.8,240.3 364.2,239.3 365.0,238.0C365.8,236.7 366.8,235.3 367.0,234.0C367.2,232.7 365.8,231.0 366.0,230.0C366.2,229.0 366.7,229.0 368.0,228.0C369.3,227.0 372.0,225.5 374.0,224.0C376.0,222.5 377.8,221.0 380.0,219.0C382.2,217.0 385.0,214.3 387.0,212.0C389.0,209.7 390.5,207.3 392.0,205.0C393.5,202.7 394.8,200.3 396.0,198.0C397.2,195.7 398.2,193.2 399.0,191.0C399.8,188.8 400.7,188.0 401.0,184.5C401.3,181.0 407.3,172.4 401.0,170.0C394.7,167.6 369.3,167.6 363.0,170.0ZM411.0,170.0C399.7,172.4 411.3,180.3 411.0,184.5C410.7,188.7 409.8,191.6 409.0,195.0C408.2,198.4 407.2,201.8 406.0,205.0C404.8,208.2 403.2,211.2 402.0,214.0C400.8,216.8 399.3,219.3 398.5,222.0C397.7,224.7 397.2,227.0 397.0,230.0C396.8,233.0 397.0,236.7 397.0,240.0C397.0,243.3 397.3,247.3 397.0,250.0C396.7,252.7 395.7,254.3 395.0,256.0C394.3,257.7 393.2,258.3 393.0,260.0C392.8,261.7 393.2,264.0 393.5,266.0C393.8,268.0 394.3,270.2 395.0,272.0C395.7,273.8 396.5,275.3 397.5,277.0C398.5,278.7 399.6,280.3 401.0,282.0C402.4,283.7 404.5,285.6 406.0,287.0C407.5,288.4 407.7,289.4 410.0,290.5C412.3,291.6 416.3,292.8 420.0,293.5C423.7,294.2 428.2,294.2 432.0,295.0C435.8,295.8 440.0,297.2 443.0,298.5C446.0,299.8 448.5,301.2 450.0,303.0C451.5,304.8 452.2,307.1 452.0,309.0C451.8,310.9 450.8,312.8 449.0,314.5C447.2,316.2 443.5,317.6 441.0,319.0C438.5,320.4 436.2,321.5 434.0,323.0C431.8,324.5 429.8,326.3 428.0,328.0C426.2,329.7 424.3,331.5 423.0,333.0C421.7,334.5 421.0,335.7 420.0,337.0C419.0,338.3 418.0,339.7 417.0,341.0C416.0,342.3 414.9,343.2 414.0,345.0C413.1,346.8 412.0,349.5 411.5,352.0C411.0,354.5 410.8,357.7 411.0,360.0C411.2,362.3 411.8,364.5 413.0,366.0C414.2,367.5 416.0,368.5 418.0,369.0C420.0,369.5 422.7,369.3 425.0,369.0C427.3,368.7 429.7,367.4 432.0,367.0C434.3,366.6 436.8,366.2 439.0,366.5C441.2,366.8 442.8,368.2 445.0,369.0C447.2,369.8 449.2,370.6 452.0,371.0C454.8,371.4 458.7,371.7 462.0,371.5C465.3,371.3 469.0,370.7 472.0,370.0C475.0,369.3 477.5,368.5 480.0,367.5C482.5,366.5 485.2,365.4 487.0,364.0C488.8,362.6 490.2,361.0 491.0,359.0C491.8,357.0 491.7,354.5 492.0,352.0C492.3,349.5 492.7,346.3 493.0,344.0C493.3,341.7 493.4,339.7 494.0,338.0C494.6,336.3 495.5,334.9 496.6,334.0C497.7,333.1 499.2,332.9 500.8,332.6C502.4,332.3 504.5,332.1 506.4,332.2C508.3,332.2 510.4,332.4 512.0,332.9C513.6,333.4 515.0,334.5 516.2,335.4C517.5,336.2 518.4,336.9 519.5,338.0C520.6,339.1 521.9,340.3 523.0,342.0C524.1,343.7 524.8,346.1 526.0,348.0C527.2,349.9 528.5,351.9 530.0,353.5C531.5,355.1 533.3,356.4 535.0,357.5C536.7,358.6 538.3,359.7 540.0,360.0C541.7,360.3 543.5,360.0 545.0,359.5C546.5,359.0 547.7,357.8 549.0,357.0C550.3,356.2 551.5,355.2 553.0,354.5C554.5,353.8 556.2,353.0 558.0,352.5C559.8,352.0 562.3,352.0 564.0,351.5C565.7,351.0 566.8,350.5 568.0,349.5C569.2,348.5 570.4,347.1 571.5,345.5C572.6,343.9 573.7,341.9 574.5,340.0C575.3,338.1 575.8,336.0 576.2,334.0C576.6,332.0 576.8,330.0 577.0,328.0C577.2,326.0 577.1,323.8 577.3,322.0C577.5,320.2 577.5,318.3 578.0,317.0C578.5,315.7 579.5,314.7 580.5,314.0C581.5,313.3 582.7,313.1 584.0,313.0C585.3,312.9 587.0,313.0 588.5,313.2C590.0,313.4 591.8,313.7 593.2,314.4C594.7,315.1 595.7,316.6 597.2,317.6C598.7,318.6 600.3,319.8 602.0,320.4C603.7,321.0 605.7,321.2 607.6,321.4C609.5,321.6 611.2,321.6 613.2,321.6C615.2,321.6 617.5,321.6 619.6,321.4C621.7,321.2 623.9,320.9 626.0,320.6C628.1,320.3 630.4,320.1 632.4,319.8C634.4,319.5 636.2,319.3 638.0,319.0C639.8,318.7 641.0,319.0 643.0,318.0C645.0,317.0 647.7,314.7 650.0,313.0C652.3,311.3 654.8,309.2 657.0,308.0C659.2,306.8 661.5,305.7 663.0,305.5C664.5,305.3 665.2,305.9 666.0,307.0C666.8,308.1 666.9,310.2 667.5,312.0C668.1,313.8 668.8,316.0 669.5,318.0C670.2,320.0 671.0,322.0 672.0,324.0C673.0,326.0 674.0,328.3 675.5,330.0C677.0,331.7 678.6,333.1 681.0,334.0C683.4,334.9 686.8,335.3 690.0,335.5C693.2,335.7 697.3,335.6 700.0,335.0C702.7,334.4 704.2,333.1 706.0,332.0C707.8,330.9 708.8,329.7 711.0,328.5C713.2,327.3 716.2,326.1 719.0,325.0C721.8,323.9 724.8,323.2 727.5,322.0C730.2,320.8 733.0,319.5 735.5,318.0C738.0,316.5 740.3,314.8 742.5,313.0C744.7,311.2 746.8,309.2 748.5,307.5C750.2,305.8 751.9,304.0 753.0,302.5C754.1,301.0 755.0,299.6 755.0,298.5C755.0,297.4 754.3,296.8 753.0,296.0C751.7,295.2 749.5,294.7 747.0,294.0C744.5,293.3 741.0,292.6 738.0,291.8C735.0,291.1 732.0,290.5 729.0,289.5C726.0,288.5 722.6,287.7 720.0,286.0C717.4,284.3 715.2,282.0 713.5,279.5C711.8,277.0 710.9,273.8 710.0,271.0C709.1,268.2 708.3,265.7 708.0,263.0C707.7,260.3 707.8,258.0 708.0,255.0C708.2,252.0 708.8,248.3 709.2,245.0C709.6,241.7 710.1,238.3 710.5,235.0C710.9,231.7 711.3,228.3 711.5,225.0C711.7,221.7 711.9,218.2 711.5,215.0C711.1,211.8 710.2,209.3 709.0,206.0C707.8,202.7 705.4,198.7 704.5,195.0C703.6,191.3 703.7,188.2 703.5,184.0C703.3,179.8 705.9,172.3 703.5,170.0C701.1,167.7 691.4,167.7 689.0,170.0C686.6,172.3 689.1,179.8 689.0,184.0C688.9,188.2 688.5,191.5 688.5,195.0C688.5,198.5 689.2,202.3 689.0,205.0C688.8,207.7 688.2,209.0 687.0,211.0C685.8,213.0 683.7,215.0 682.0,217.0C680.3,219.0 678.5,220.8 677.0,223.0C675.5,225.2 674.2,227.7 673.0,230.0C671.8,232.3 670.8,235.0 670.0,237.0C669.2,239.0 669.0,240.8 668.0,242.0C667.0,243.2 665.3,243.2 664.0,244.0C662.7,244.8 661.1,246.2 660.0,247.0C658.9,247.8 658.2,248.4 657.5,249.0C656.8,249.6 656.5,250.5 656.0,250.5C655.5,250.5 655.3,250.1 654.8,249.0C654.3,247.9 653.5,245.8 652.8,244.0C652.1,242.2 651.1,240.2 650.5,238.0C649.9,235.8 649.9,233.3 649.0,231.0C648.1,228.7 646.5,225.9 645.0,224.0C643.5,222.1 641.8,220.5 640.0,219.5C638.2,218.5 636.0,218.0 634.0,218.0C632.0,218.0 630.2,218.5 628.0,219.5C625.8,220.5 623.3,222.2 621.0,224.0C618.7,225.8 616.5,228.0 614.0,230.0C611.5,232.0 608.7,234.3 606.0,236.0C603.3,237.7 600.7,239.1 598.0,240.0C595.3,240.9 593.0,241.0 590.0,241.5C587.0,242.0 583.3,242.4 580.0,243.0C576.7,243.6 573.3,244.3 570.0,245.0C566.7,245.7 563.0,246.3 560.0,247.0C557.0,247.7 554.3,248.2 552.0,249.0C549.7,249.8 547.7,250.5 546.0,251.5C544.3,252.5 543.2,253.9 542.0,255.0C540.8,256.1 540.2,257.1 539.0,258.0C537.8,258.9 536.5,259.8 535.0,260.5C533.5,261.2 531.8,261.9 530.0,262.0C528.2,262.1 526.3,261.6 524.0,261.0C521.7,260.4 518.7,259.1 516.0,258.5C513.3,257.9 510.5,257.8 508.0,257.5C505.5,257.2 502.9,257.4 501.0,256.5C499.1,255.6 497.8,253.8 496.5,252.0C495.2,250.2 494.2,248.0 493.5,246.0C492.8,244.0 492.4,241.8 492.0,240.0C491.6,238.2 491.6,236.8 491.0,235.0C490.4,233.2 489.5,231.0 488.5,229.0C487.5,227.0 486.2,225.0 485.0,223.0C483.8,221.0 482.7,219.2 481.5,217.0C480.3,214.8 479.0,212.5 478.0,210.0C477.0,207.5 475.8,204.8 475.5,202.0C475.2,199.2 475.9,195.9 476.5,193.0C477.1,190.1 478.6,188.3 479.0,184.5C479.4,180.7 490.3,172.4 479.0,170.0C467.7,167.6 422.3,167.6 411.0,170.0ZM572.0,170.0C570.3,172.4 572.3,181.0 572.0,184.5C571.7,188.0 570.2,188.8 570.0,191.0C569.8,193.2 569.8,195.8 570.5,198.0C571.2,200.2 572.6,202.9 574.0,204.0C575.4,205.1 577.4,205.2 579.0,204.5C580.6,203.8 582.3,201.8 583.5,200.0C584.7,198.2 585.8,196.2 586.0,194.0C586.2,191.8 585.7,188.6 585.0,187.0C584.3,185.4 582.5,187.3 582.0,184.5C581.5,181.7 583.7,172.4 582.0,170.0C580.3,167.6 573.7,167.6 572.0,170.0ZM733.0,367.0C731.7,367.8 729.0,370.5 728.0,373.0C727.0,375.5 726.7,379.2 727.0,382.0C727.3,384.8 728.5,387.5 730.0,390.0C731.5,392.5 734.0,395.5 736.0,397.0C738.0,398.5 740.2,399.3 742.0,399.0C743.8,398.7 745.8,397.0 747.0,395.0C748.2,393.0 749.0,389.7 749.0,387.0C749.0,384.3 748.0,380.5 747.0,379.0C746.0,377.5 744.3,379.0 743.0,378.0C741.7,377.0 740.2,374.7 739.0,373.0C737.8,371.3 737.0,369.0 736.0,368.0C735.0,367.0 734.3,366.2 733.0,367.0ZM808.0,342.0C805.7,343.2 802.3,345.7 800.0,348.0C797.7,350.3 796.0,353.2 794.0,356.0C792.0,358.8 790.0,361.8 788.0,365.0C786.0,368.2 783.8,371.5 782.0,375.0C780.2,378.5 778.7,382.8 777.0,386.0C775.3,389.2 773.7,392.0 772.0,394.0C770.3,396.0 768.2,396.3 767.0,398.0C765.8,399.7 764.8,402.3 765.0,404.0C765.2,405.7 766.5,407.2 768.0,408.0C769.5,408.8 772.0,409.0 774.0,409.0C776.0,409.0 778.2,408.8 780.0,408.0C781.8,407.2 783.5,405.5 785.0,404.0C786.5,402.5 787.2,400.7 789.0,399.0C790.8,397.3 793.3,395.7 796.0,394.0C798.7,392.3 802.2,390.8 805.0,389.0C807.8,387.2 810.5,385.2 813.0,383.0C815.5,380.8 818.0,378.5 820.0,376.0C822.0,373.5 823.8,371.0 825.0,368.0C826.2,365.0 827.0,361.0 827.0,358.0C827.0,355.0 826.2,352.3 825.0,350.0C823.8,347.7 821.8,345.5 820.0,344.0C818.2,342.5 816.0,341.3 814.0,341.0C812.0,340.7 810.3,340.8 808.0,342.0Z"/>
<path fill="#00a0ff" d="M365.5,170.0C360.1,172.4 366.0,181.0 365.5,184.5C365.0,188.0 363.8,188.8 362.5,191.0C361.2,193.2 359.2,195.7 357.5,198.0C355.8,200.3 353.8,202.7 352.0,205.0C350.2,207.3 348.5,209.7 347.0,212.0C345.5,214.3 344.1,217.2 343.0,219.0C341.9,220.8 341.1,221.7 340.5,223.0C339.9,224.3 339.6,225.5 339.5,227.0C339.4,228.5 339.4,230.3 340.0,232.0C340.6,233.7 341.7,235.7 343.0,237.0C344.3,238.3 346.3,239.3 348.0,240.0C349.7,240.7 351.5,241.2 353.0,241.0C354.5,240.8 355.7,239.8 357.0,239.0C358.3,238.2 359.8,237.0 361.0,236.0C362.2,235.0 363.7,234.2 364.5,233.0C365.3,231.8 365.2,230.5 366.0,229.0C366.8,227.5 367.5,225.7 369.0,224.0C370.5,222.3 373.0,220.8 375.0,219.0C377.0,217.2 379.2,215.0 381.0,213.0C382.8,211.0 384.5,209.2 386.0,207.0C387.5,204.8 388.7,202.3 390.0,200.0C391.3,197.7 392.8,195.3 394.0,193.0C395.2,190.7 396.3,189.8 397.0,186.0C397.7,182.2 403.2,172.7 398.0,170.0C392.8,167.3 370.9,167.6 365.5,170.0ZM413.0,170.0C403.5,172.4 413.3,180.3 413.0,184.5C412.7,188.7 411.8,191.6 411.0,195.0C410.2,198.4 409.1,201.8 408.0,205.0C406.9,208.2 405.7,211.2 404.5,214.0C403.3,216.8 401.9,219.3 401.0,222.0C400.1,224.7 399.2,227.0 399.0,230.0C398.8,233.0 399.4,236.7 399.5,240.0C399.6,243.3 399.8,247.3 399.5,250.0C399.2,252.7 398.2,254.3 397.5,256.0C396.8,257.7 395.8,258.3 395.5,260.0C395.2,261.7 395.7,264.0 396.0,266.0C396.3,268.0 396.8,270.2 397.5,272.0C398.2,273.8 399.4,275.3 400.5,277.0C401.6,278.7 402.7,280.5 404.0,282.0C405.3,283.5 407.5,285.1 408.5,286.0C409.5,286.9 408.1,286.6 410.0,287.5C411.9,288.4 415.8,290.5 420.0,291.5C424.2,292.5 430.0,292.6 435.0,293.5C440.0,294.4 445.5,296.1 450.0,297.0C454.5,297.9 459.0,298.6 462.0,299.0C465.0,299.4 466.8,298.8 468.0,299.5C469.2,300.2 469.3,301.9 469.0,303.0C468.7,304.1 467.5,305.0 466.0,306.0C464.5,307.0 461.5,307.8 460.0,309.0C458.5,310.2 457.8,311.5 457.0,313.0C456.2,314.5 455.7,316.3 455.0,318.0C454.3,319.7 454.5,322.2 453.0,323.0C451.5,323.8 448.2,322.8 446.0,323.0C443.8,323.2 441.8,323.2 440.0,324.0C438.2,324.8 436.7,326.5 435.0,328.0C433.3,329.5 431.5,331.5 430.0,333.0C428.5,334.5 427.5,335.5 426.0,337.0C424.5,338.5 422.7,340.3 421.0,342.0C419.3,343.7 417.3,345.2 416.0,347.0C414.7,348.8 413.5,351.0 413.0,353.0C412.5,355.0 412.3,357.2 413.0,359.0C413.7,360.8 415.3,362.8 417.0,364.0C418.7,365.2 420.8,365.8 423.0,366.0C425.2,366.2 427.7,365.3 430.0,365.0C432.3,364.7 434.7,363.8 437.0,364.0C439.3,364.2 441.5,365.3 444.0,366.0C446.5,366.7 449.0,367.7 452.0,368.0C455.0,368.3 458.7,368.2 462.0,368.0C465.3,367.8 469.0,367.2 472.0,366.5C475.0,365.8 478.0,365.1 480.0,364.0C482.0,362.9 483.0,361.7 484.0,360.0C485.0,358.3 485.6,356.2 486.0,354.0C486.4,351.8 486.4,349.2 486.5,347.0C486.6,344.8 486.3,343.2 486.8,341.0C487.3,338.8 488.8,336.1 489.6,334.0C490.4,331.9 490.8,330.0 491.7,328.4C492.6,326.8 493.9,325.4 495.2,324.2C496.5,323.0 498.1,322.6 499.4,321.4C500.7,320.2 502.1,318.4 502.9,317.2C503.7,316.0 504.4,315.7 504.3,314.4C504.2,313.1 503.0,311.2 502.2,309.5C501.4,307.8 500.1,305.8 499.4,303.9C498.7,302.0 497.6,299.3 498.0,298.3C498.4,297.3 500.2,297.9 501.5,297.8C502.8,297.8 504.8,297.2 505.7,298.0C506.6,298.8 506.5,300.9 506.7,302.5C506.9,304.1 507.3,305.6 507.1,307.4C506.9,309.1 506.1,311.8 505.7,313.0C505.3,314.2 504.8,313.5 505.0,314.7C505.2,315.9 506.3,318.3 507.1,320.0C507.9,321.7 508.8,323.4 509.9,324.9C510.9,326.4 512.1,327.6 513.4,329.1C514.7,330.6 516.3,332.4 517.6,334.0C518.9,335.6 520.0,336.9 521.1,338.9C522.2,340.9 523.4,344.0 524.5,346.0C525.6,348.0 526.3,349.5 527.5,351.0C528.7,352.5 530.1,353.9 531.5,355.0C532.9,356.1 534.4,356.9 536.0,357.5C537.6,358.1 539.3,358.5 541.0,358.5C542.7,358.5 544.3,358.1 546.0,357.5C547.7,356.9 549.3,355.8 551.0,355.0C552.7,354.2 554.2,353.2 556.0,352.5C557.8,351.8 560.2,351.5 562.0,350.8C563.8,350.1 565.7,349.5 567.0,348.5C568.3,347.5 569.0,346.4 570.0,345.0C571.0,343.6 572.2,341.8 573.0,340.0C573.8,338.2 574.4,336.0 574.8,334.0C575.2,332.0 575.3,329.8 575.5,328.0C575.7,326.2 575.5,324.8 575.8,323.0C576.0,321.2 576.5,318.7 577.0,317.0C577.5,315.3 578.1,314.2 578.8,313.0C579.5,311.8 580.1,310.6 581.0,309.5C581.9,308.4 583.0,307.6 584.4,306.4C585.8,305.2 587.7,303.4 589.2,302.4C590.7,301.4 592.4,300.1 593.2,300.4C594.0,300.7 594.1,302.3 594.2,304.0C594.3,305.7 593.9,308.7 594.0,310.4C594.1,312.1 594.1,313.3 594.8,314.4C595.5,315.5 596.5,316.4 598.0,317.2C599.5,318.0 601.3,318.8 603.6,319.2C605.9,319.6 609.2,319.7 611.6,319.7C614.0,319.7 615.9,319.6 618.0,319.4C620.1,319.2 622.3,318.9 624.4,318.6C626.5,318.3 629.0,318.2 630.8,317.8C632.6,317.4 633.0,317.1 635.0,316.5C637.0,315.9 640.5,315.2 643.0,314.0C645.5,312.8 647.7,310.7 650.0,309.0C652.3,307.3 654.8,305.2 657.0,304.0C659.2,302.8 661.3,302.1 663.0,302.0C664.7,301.9 666.0,302.5 667.0,303.5C668.0,304.5 668.3,306.2 669.0,308.0C669.7,309.8 670.2,312.0 671.0,314.0C671.8,316.0 672.5,318.1 673.5,320.0C674.5,321.9 675.4,323.9 677.0,325.5C678.6,327.1 680.5,328.6 683.0,329.5C685.5,330.4 689.2,330.8 692.0,331.0C694.8,331.2 697.3,331.0 700.0,330.5C702.7,330.0 705.5,329.1 708.0,328.0C710.5,326.9 712.5,325.3 715.0,324.0C717.5,322.7 720.3,321.3 723.0,320.0C725.7,318.7 728.5,317.5 731.0,316.0C733.5,314.5 735.8,312.7 738.0,311.0C740.2,309.3 742.3,307.7 744.0,306.0C745.7,304.3 747.2,302.3 748.0,301.0C748.8,299.7 748.8,298.8 748.5,298.0C748.2,297.2 747.4,296.7 746.0,296.0C744.6,295.3 742.3,294.7 740.0,294.0C737.7,293.3 734.7,292.8 732.0,292.0C729.3,291.2 726.5,290.7 724.0,289.5C721.5,288.3 719.0,286.9 717.0,285.0C715.0,283.1 713.4,280.5 712.0,278.0C710.6,275.5 709.4,272.7 708.5,270.0C707.6,267.3 707.0,264.5 706.5,262.0C706.0,259.5 705.8,257.3 705.5,255.0C705.2,252.7 704.5,250.5 704.5,248.0C704.5,245.5 705.2,242.7 705.5,240.0C705.8,237.3 706.2,234.7 706.5,232.0C706.8,229.3 707.4,226.3 707.0,224.0C706.6,221.7 705.3,219.8 704.0,218.0C702.7,216.2 700.7,214.3 699.0,213.0C697.3,211.7 695.7,210.3 694.0,210.0C692.3,209.7 690.7,210.2 689.0,211.0C687.3,211.8 685.7,213.0 684.0,215.0C682.3,217.0 680.5,220.3 679.0,223.0C677.5,225.7 676.2,228.4 675.0,231.0C673.8,233.6 672.9,236.4 672.0,238.5C671.1,240.6 670.5,242.2 669.5,243.5C668.5,244.8 667.2,245.1 666.0,246.0C664.8,246.9 663.0,247.7 662.0,249.0C661.0,250.3 660.6,252.5 660.0,254.0C659.4,255.5 659.0,256.4 658.5,258.0C658.0,259.6 657.6,262.2 657.2,263.5C656.8,264.8 656.5,265.8 656.2,265.8C655.9,265.8 655.6,264.8 655.2,263.5C654.8,262.2 654.5,260.1 654.0,258.0C653.5,255.9 652.8,252.8 652.0,251.0C651.2,249.2 650.4,249.0 649.5,247.0C648.6,245.0 647.6,241.5 646.5,239.0C645.4,236.5 644.4,234.1 643.0,232.0C641.6,229.9 639.7,227.8 638.0,226.5C636.3,225.2 634.7,224.8 633.0,224.5C631.3,224.2 630.0,224.2 628.0,225.0C626.0,225.8 623.3,227.4 621.0,229.0C618.7,230.6 616.5,232.7 614.0,234.5C611.5,236.3 608.7,238.5 606.0,240.0C603.3,241.5 600.7,242.7 598.0,243.5C595.3,244.3 593.0,244.5 590.0,245.0C587.0,245.5 583.3,245.8 580.0,246.5C576.7,247.2 573.3,248.2 570.0,249.0C566.7,249.8 563.0,250.2 560.0,251.0C557.0,251.8 554.3,252.7 552.0,253.5C549.7,254.3 547.7,255.0 546.0,256.0C544.3,257.0 543.2,258.4 542.0,259.5C540.8,260.6 540.2,261.7 539.0,262.5C537.8,263.3 536.5,263.8 535.0,264.5C533.5,265.2 531.8,266.4 530.0,266.5C528.2,266.6 526.3,265.7 524.0,265.0C521.7,264.3 518.7,263.2 516.0,262.5C513.3,261.8 510.7,261.3 508.0,261.0C505.3,260.7 502.3,260.8 500.0,260.5C497.7,260.2 495.5,259.9 494.0,259.0C492.5,258.1 491.8,256.7 491.0,255.0C490.2,253.3 490.1,251.3 489.5,249.0C488.9,246.7 488.2,243.3 487.5,241.0C486.8,238.7 486.3,237.0 485.5,235.0C484.7,233.0 483.7,231.0 482.5,229.0C481.3,227.0 479.9,225.0 478.5,223.0C477.1,221.0 475.4,219.2 474.0,217.0C472.6,214.8 471.1,212.5 470.0,210.0C468.9,207.5 467.8,204.8 467.5,202.0C467.2,199.2 468.1,195.9 468.5,193.0C468.9,190.1 469.8,188.3 470.0,184.5C470.2,180.7 479.5,172.4 470.0,170.0C460.5,167.6 422.5,167.6 413.0,170.0ZM691.0,170.0C689.7,172.3 690.8,180.3 691.0,184.0C691.2,187.7 691.6,189.5 692.0,192.0C692.4,194.5 692.8,199.0 693.5,199.0C694.2,199.0 695.1,194.5 696.0,192.0C696.9,189.5 698.5,187.7 699.0,184.0C699.5,180.3 700.3,172.3 699.0,170.0C697.7,167.7 692.3,167.7 691.0,170.0ZM579.5,189.0C581.1,188.9 583.9,192.2 584.0,194.0C584.1,195.8 581.6,199.9 580.0,200.0C578.4,200.1 574.6,196.3 574.5,194.5C574.4,192.7 577.9,189.1 579.5,189.0ZM731.0,369.0C732.0,368.8 734.1,370.5 735.0,372.0C735.9,373.5 736.8,376.3 736.5,378.0C736.2,379.7 734.1,381.8 733.0,382.0C731.9,382.2 730.7,380.5 730.0,379.0C729.3,377.5 728.8,374.7 729.0,373.0C729.2,371.3 730.0,369.2 731.0,369.0ZM740.0,381.0C741.1,380.5 743.8,382.0 745.0,383.0C746.2,384.0 747.0,385.5 747.0,387.0C747.0,388.5 745.9,391.3 745.0,392.0C744.1,392.7 742.6,392.0 741.5,391.0C740.4,390.0 738.8,387.7 738.5,386.0C738.2,384.3 738.9,381.5 740.0,381.0ZM808.0,346.0C805.3,346.7 803.2,349.7 801.0,352.0C798.8,354.3 796.8,357.3 795.0,360.0C793.2,362.7 791.7,365.0 790.0,368.0C788.3,371.0 786.5,374.7 785.0,378.0C783.5,381.3 782.0,385.3 781.0,388.0C780.0,390.7 778.8,392.5 779.0,394.0C779.2,395.5 780.5,396.8 782.0,397.0C783.5,397.2 785.8,396.0 788.0,395.0C790.2,394.0 792.5,392.5 795.0,391.0C797.5,389.5 800.3,387.8 803.0,386.0C805.7,384.2 808.5,382.2 811.0,380.0C813.5,377.8 816.2,375.3 818.0,373.0C819.8,370.7 821.0,368.5 822.0,366.0C823.0,363.5 824.1,360.3 824.0,358.0C823.9,355.7 822.8,353.7 821.6,352.0C820.4,350.3 819.3,349.0 817.0,348.0C814.7,347.0 810.7,345.3 808.0,346.0Z"/>
<path fill="#00c8c8" d="M368.0,170.0C363.5,172.4 368.5,181.0 368.0,184.5C367.5,188.0 366.3,188.8 365.0,191.0C363.7,193.2 361.8,195.7 360.0,198.0C358.2,200.3 356.2,202.7 354.5,205.0C352.8,207.3 351.3,209.8 350.0,212.0C348.7,214.2 347.4,216.2 346.5,218.0C345.6,219.8 344.8,221.5 344.5,223.0C344.2,224.5 344.4,225.8 345.0,227.0C345.6,228.2 346.7,229.3 348.0,230.0C349.3,230.7 351.3,231.2 353.0,231.0C354.7,230.8 356.5,229.8 358.0,229.0C359.5,228.2 360.5,227.2 362.0,226.0C363.5,224.8 365.2,223.5 367.0,222.0C368.8,220.5 371.0,218.8 373.0,217.0C375.0,215.2 377.2,213.0 379.0,211.0C380.8,209.0 382.5,207.0 384.0,205.0C385.5,203.0 386.8,201.2 388.0,199.0C389.2,196.8 390.4,194.3 391.5,192.0C392.6,189.7 393.9,188.7 394.5,185.0C395.1,181.3 399.4,172.5 395.0,170.0C390.6,167.5 372.5,167.6 368.0,170.0ZM416.0,170.0C407.7,172.4 416.3,180.3 416.0,184.5C415.7,188.7 414.8,191.6 414.0,195.0C413.2,198.4 412.1,201.8 411.0,205.0C409.9,208.2 408.7,211.2 407.5,214.0C406.3,216.8 404.9,219.3 404.0,222.0C403.1,224.7 402.2,227.0 402.0,230.0C401.8,233.0 402.8,236.7 403.0,240.0C403.2,243.3 403.3,247.3 403.0,250.0C402.7,252.7 401.7,254.3 401.0,256.0C400.3,257.7 399.2,258.3 399.0,260.0C398.8,261.7 399.5,264.0 400.0,266.0C400.5,268.0 401.2,270.2 402.0,272.0C402.8,273.8 404.0,275.5 405.0,277.0C406.0,278.5 407.2,280.0 408.0,281.0C408.8,282.0 407.2,281.6 410.0,283.0C412.8,284.4 420.0,288.0 425.0,289.5C430.0,291.0 435.0,291.2 440.0,292.0C445.0,292.8 450.7,294.0 455.0,294.5C459.3,295.0 463.2,295.2 466.0,295.0C468.8,294.8 470.0,294.0 472.0,293.5C474.0,293.0 476.0,292.1 478.0,292.0C480.0,291.9 481.8,292.2 484.0,292.7C486.2,293.2 488.9,294.2 491.0,294.8C493.1,295.4 494.9,296.0 496.6,296.2C498.4,296.4 499.9,295.8 501.5,295.8C503.1,295.8 505.3,295.7 506.4,296.2C507.5,296.7 507.8,297.6 508.1,299.0C508.5,300.4 508.5,302.7 508.5,304.6C508.5,306.5 508.0,308.4 508.1,310.2C508.2,311.9 508.7,313.5 509.2,315.1C509.7,316.7 510.5,318.4 511.3,320.0C512.1,321.6 513.1,323.3 514.1,324.9C515.1,326.5 516.4,328.3 517.6,329.8C518.8,331.3 520.0,332.5 521.1,334.0C522.2,335.5 523.5,337.3 524.5,339.0C525.5,340.7 526.1,342.3 527.0,344.0C527.9,345.7 528.8,347.5 530.0,349.0C531.2,350.5 532.7,351.9 534.0,353.0C535.3,354.1 536.7,354.9 538.0,355.5C539.3,356.1 540.5,356.5 542.0,356.5C543.5,356.5 545.3,356.1 547.0,355.5C548.7,354.9 550.2,353.8 552.0,353.0C553.8,352.2 556.2,351.2 558.0,350.5C559.8,349.8 561.5,349.7 563.0,349.0C564.5,348.3 565.9,347.5 567.0,346.5C568.1,345.5 568.8,344.4 569.5,343.0C570.2,341.6 570.9,339.8 571.5,338.0C572.1,336.2 572.6,334.0 573.0,332.0C573.4,330.0 573.6,328.0 574.0,326.0C574.4,324.0 574.7,322.1 575.2,320.0C575.7,317.9 576.0,315.5 576.8,313.6C577.6,311.7 578.7,310.0 580.0,308.4C581.3,306.8 582.9,305.3 584.4,304.0C585.9,302.7 587.9,301.5 589.2,300.8C590.5,300.1 591.6,299.6 592.4,300.0C593.2,300.4 593.7,301.9 594.0,303.2C594.3,304.5 594.2,306.4 594.4,308.0C594.6,309.6 594.5,311.5 595.2,312.8C595.9,314.1 597.1,315.2 598.8,316.0C600.5,316.8 603.1,317.1 605.2,317.4C607.3,317.7 609.5,317.8 611.6,317.8C613.7,317.8 615.9,317.6 618.0,317.4C620.1,317.2 622.3,316.9 624.4,316.6C626.5,316.3 629.0,316.2 630.8,315.8C632.6,315.4 633.0,314.8 635.0,314.0C637.0,313.2 640.5,312.3 643.0,311.0C645.5,309.7 647.7,307.6 650.0,306.0C652.3,304.4 654.8,302.6 657.0,301.5C659.2,300.4 661.2,299.6 663.0,299.5C664.8,299.4 666.8,300.1 668.0,301.0C669.2,301.9 669.8,303.3 670.5,305.0C671.2,306.7 671.8,309.0 672.5,311.0C673.2,313.0 674.0,315.1 675.0,317.0C676.0,318.9 677.0,320.9 678.5,322.5C680.0,324.1 681.8,325.6 684.0,326.5C686.2,327.4 689.3,327.8 692.0,328.0C694.7,328.2 697.5,328.0 700.0,327.5C702.5,327.0 704.7,326.2 707.0,325.0C709.3,323.8 711.7,322.0 714.0,320.5C716.3,319.0 718.8,317.4 721.0,316.0C723.2,314.6 725.2,313.5 727.0,312.0C728.8,310.5 730.7,308.7 732.0,307.0C733.3,305.3 734.3,303.5 735.0,302.0C735.7,300.5 736.3,299.2 736.0,298.0C735.7,296.8 734.5,296.0 733.0,295.0C731.5,294.0 729.2,293.2 727.0,292.0C724.8,290.8 722.2,289.5 720.0,288.0C717.8,286.5 715.7,284.8 714.0,283.0C712.3,281.2 711.2,279.2 710.0,277.0C708.8,274.8 707.4,272.5 706.5,270.0C705.6,267.5 705.0,264.5 704.5,262.0C704.0,259.5 703.8,257.0 703.5,255.0C703.2,253.0 702.6,251.8 702.5,250.0C702.4,248.2 702.7,246.5 703.0,244.0C703.3,241.5 704.2,238.0 704.5,235.0C704.8,232.0 705.3,228.3 705.0,226.0C704.7,223.7 703.7,222.7 702.5,221.0C701.3,219.3 699.4,217.2 698.0,216.0C696.6,214.8 695.5,213.8 694.0,213.5C692.5,213.2 690.7,213.8 689.0,214.5C687.3,215.2 685.4,216.0 684.0,218.0C682.6,220.0 681.8,223.9 680.5,226.5C679.2,229.1 677.7,231.2 676.5,233.5C675.3,235.8 674.4,238.1 673.5,240.0C672.6,241.9 671.9,243.7 671.0,245.0C670.1,246.3 669.1,247.0 668.0,248.0C666.9,249.0 665.5,249.8 664.5,251.0C663.5,252.2 662.8,253.7 662.0,255.0C661.2,256.3 660.6,257.2 660.0,259.0C659.4,260.8 658.9,263.8 658.2,265.5C657.5,267.2 656.7,269.3 656.0,269.2C655.3,269.1 654.6,266.8 654.0,265.0C653.4,263.2 653.2,260.3 652.5,258.5C651.8,256.7 650.8,255.6 650.0,254.0C649.2,252.4 648.8,251.2 648.0,249.0C647.2,246.8 646.1,243.4 645.0,241.0C643.9,238.6 642.8,236.5 641.5,234.5C640.2,232.5 638.6,230.2 637.0,229.0C635.4,227.8 633.7,227.2 632.0,227.0C630.3,226.8 628.8,227.2 627.0,228.0C625.2,228.8 623.2,230.3 621.0,232.0C618.8,233.7 616.5,236.1 614.0,238.0C611.5,239.9 608.7,242.0 606.0,243.5C603.3,245.0 600.7,246.1 598.0,247.0C595.3,247.9 592.7,248.4 590.0,249.0C587.3,249.6 585.0,249.9 582.0,250.5C579.0,251.1 575.3,251.8 572.0,252.5C568.7,253.2 565.0,254.2 562.0,255.0C559.0,255.8 556.3,256.5 554.0,257.5C551.7,258.5 549.8,259.6 548.0,261.0C546.2,262.4 544.8,264.4 543.0,266.0C541.2,267.6 539.2,269.5 537.0,270.5C534.8,271.5 532.2,272.1 530.0,272.0C527.8,271.9 526.3,270.8 524.0,270.0C521.7,269.2 518.7,267.8 516.0,267.0C513.3,266.2 510.7,265.6 508.0,265.0C505.3,264.4 502.3,263.9 500.0,263.5C497.7,263.1 495.8,263.1 494.0,262.5C492.2,261.9 490.2,261.4 489.0,260.0C487.8,258.6 487.1,256.0 486.5,254.0C485.9,252.0 485.9,250.2 485.5,248.0C485.1,245.8 484.7,243.2 484.0,241.0C483.3,238.8 482.5,237.0 481.5,235.0C480.5,233.0 479.3,231.0 478.0,229.0C476.7,227.0 475.0,225.0 473.5,223.0C472.0,221.0 470.3,219.2 469.0,217.0C467.7,214.8 466.3,212.5 465.5,210.0C464.7,207.5 464.2,204.8 464.0,202.0C463.8,199.2 464.2,195.9 464.5,193.0C464.8,190.1 465.8,188.3 466.0,184.5C466.2,180.7 474.3,172.4 466.0,170.0C457.7,167.6 424.3,167.6 416.0,170.0ZM455.0,312.0C456.3,310.3 459.5,309.7 462.0,309.0C464.5,308.3 467.5,308.3 470.0,308.0C472.5,307.7 474.7,307.6 477.0,307.4C479.3,307.2 481.7,306.6 484.0,306.7C486.3,306.8 488.9,307.4 491.0,308.1C493.1,308.8 495.2,309.8 496.6,310.9C498.0,311.9 499.2,313.2 499.4,314.4C499.6,315.6 498.8,316.7 498.0,317.9C497.2,319.1 495.7,320.1 494.5,321.4C493.3,322.7 492.1,324.1 491.0,325.6C489.9,327.1 489.1,328.8 488.2,330.5C487.3,332.2 486.2,334.4 485.4,336.1C484.6,337.9 483.8,339.0 483.3,341.0C482.8,343.0 482.9,345.8 482.5,348.0C482.1,350.2 481.8,352.2 481.0,354.0C480.2,355.8 479.3,357.2 478.0,358.5C476.7,359.8 475.3,360.6 473.0,361.5C470.7,362.4 467.0,363.4 464.0,364.0C461.0,364.6 457.8,365.2 455.0,365.0C452.2,364.8 449.3,364.0 447.0,363.0C444.7,362.0 442.7,360.7 441.0,359.0C439.3,357.3 437.8,355.0 437.0,353.0C436.2,351.0 436.0,349.0 436.0,347.0C436.0,345.0 436.3,342.8 437.0,341.0C437.7,339.2 438.8,337.5 440.0,336.0C441.2,334.5 442.3,333.2 444.0,332.0C445.7,330.8 448.3,330.0 450.0,329.0C451.7,328.0 453.3,327.7 454.0,326.0C454.7,324.3 453.8,321.3 454.0,319.0C454.2,316.7 453.7,313.7 455.0,312.0ZM415.0,353.0C416.0,352.3 418.5,351.3 420.0,351.5C421.5,351.7 423.2,352.9 424.0,354.0C424.8,355.1 425.3,356.8 425.0,358.0C424.7,359.2 423.2,360.8 422.0,361.5C420.8,362.2 418.8,362.4 417.5,362.0C416.2,361.6 415.1,360.1 414.5,359.0C413.9,357.9 413.9,356.5 414.0,355.5C414.1,354.5 414.0,353.7 415.0,353.0ZM807.0,351.0C804.7,351.8 802.8,354.8 801.0,357.0C799.2,359.2 797.7,361.5 796.0,364.0C794.3,366.5 792.7,369.2 791.0,372.0C789.3,374.8 787.3,378.2 786.0,381.0C784.7,383.8 783.2,387.0 783.0,389.0C782.8,391.0 783.7,392.7 785.0,393.0C786.3,393.3 788.8,392.0 791.0,391.0C793.2,390.0 795.5,388.5 798.0,387.0C800.5,385.5 803.5,383.8 806.0,382.0C808.5,380.2 811.0,378.2 813.0,376.0C815.0,373.8 816.7,371.3 818.0,369.0C819.3,366.7 820.7,364.2 821.0,362.0C821.3,359.8 821.0,357.7 820.0,356.0C819.0,354.3 817.2,352.8 815.0,352.0C812.8,351.2 809.3,350.2 807.0,351.0Z"/>
<path fill="#00d28c" d="M370.0,170.0C366.5,172.4 370.5,181.0 370.0,184.5C369.5,188.0 368.2,188.8 367.0,191.0C365.8,193.2 364.1,195.7 362.5,198.0C360.9,200.3 358.9,202.8 357.5,205.0C356.1,207.2 354.9,209.0 354.0,211.0C353.1,213.0 352.2,215.2 352.0,217.0C351.8,218.8 352.2,220.8 353.0,222.0C353.8,223.2 355.5,224.0 357.0,224.0C358.5,224.0 360.3,223.0 362.0,222.0C363.7,221.0 365.2,219.5 367.0,218.0C368.8,216.5 370.7,214.7 372.5,213.0C374.3,211.3 376.2,209.8 378.0,208.0C379.8,206.2 381.5,204.2 383.0,202.0C384.5,199.8 385.9,197.2 387.0,195.0C388.1,192.8 388.8,190.8 389.5,189.0C390.2,187.2 390.8,187.7 391.0,184.5C391.2,181.3 394.5,172.4 391.0,170.0C387.5,167.6 373.5,167.6 370.0,170.0ZM420.0,170.0C413.0,172.4 420.4,180.3 420.0,184.5C419.6,188.7 418.5,191.6 417.5,195.0C416.5,198.4 415.2,201.8 414.0,205.0C412.8,208.2 411.7,211.2 410.5,214.0C409.3,216.8 407.9,219.3 407.0,222.0C406.1,224.7 405.2,227.0 405.0,230.0C404.8,233.0 405.8,236.7 406.0,240.0C406.2,243.3 406.2,247.3 406.0,250.0C405.8,252.7 404.8,254.3 404.5,256.0C404.2,257.7 403.9,258.3 404.0,260.0C404.1,261.7 404.5,264.0 405.0,266.0C405.5,268.0 406.2,270.3 407.0,272.0C407.8,273.7 408.8,274.9 409.5,276.0C410.2,277.1 408.4,276.8 411.0,278.5C413.6,280.2 420.2,284.3 425.0,286.0C429.8,287.7 435.0,287.8 440.0,288.5C445.0,289.2 450.7,290.1 455.0,290.5C459.3,290.9 463.5,291.2 466.0,291.0C468.5,290.8 468.2,289.7 470.0,289.2C471.8,288.7 474.7,288.1 477.0,288.1C479.3,288.1 481.7,288.7 484.0,289.2C486.3,289.7 488.7,290.7 491.0,291.3C493.3,291.9 495.9,292.7 498.0,293.0C500.1,293.3 501.9,292.8 503.6,293.0C505.4,293.2 507.3,293.2 508.5,294.1C509.7,295.0 510.2,296.6 510.6,298.3C511.0,300.1 510.9,302.6 510.9,304.6C510.9,306.6 510.5,308.4 510.6,310.2C510.7,311.9 511.1,313.5 511.6,315.1C512.1,316.7 512.9,318.4 513.7,320.0C514.5,321.6 515.5,323.3 516.5,324.9C517.5,326.5 518.8,328.2 520.0,329.8C521.2,331.4 522.6,333.2 523.9,334.7C525.1,336.2 526.5,337.6 527.5,339.0C528.5,340.4 529.1,341.5 530.0,343.0C530.9,344.5 532.0,346.6 533.0,348.0C534.0,349.4 534.8,350.5 536.0,351.2C537.2,351.9 538.3,351.8 540.0,352.0C541.7,352.2 544.0,352.3 546.0,352.2C548.0,352.1 550.0,351.9 552.0,351.5C554.0,351.1 556.2,350.2 558.0,349.5C559.8,348.8 561.2,348.2 562.5,347.5C563.8,346.8 565.0,346.0 566.0,345.0C567.0,344.0 567.8,342.9 568.5,341.5C569.2,340.1 570.0,338.2 570.5,336.5C571.0,334.8 571.5,332.9 571.8,331.0C572.1,329.1 572.2,326.9 572.4,324.8C572.6,322.7 572.8,320.4 573.2,318.4C573.6,316.4 574.0,314.7 574.8,312.8C575.6,310.9 576.7,308.9 578.0,307.2C579.3,305.5 581.1,303.8 582.8,302.4C584.5,301.0 586.7,299.5 588.4,298.8C590.1,298.1 592.0,297.7 593.2,298.0C594.4,298.3 595.1,299.5 595.6,300.8C596.1,302.1 596.1,304.0 596.4,305.6C596.7,307.2 596.5,309.1 597.2,310.4C597.9,311.7 598.9,312.8 600.4,313.6C601.9,314.4 604.1,314.9 606.0,315.2C607.9,315.5 609.6,315.6 611.6,315.6C613.6,315.6 615.9,315.4 618.0,315.2C620.1,315.0 622.3,314.7 624.4,314.4C626.5,314.1 629.0,314.1 630.8,313.6C632.6,313.1 633.0,312.4 635.0,311.5C637.0,310.6 640.5,309.4 643.0,308.0C645.5,306.6 647.8,304.5 650.0,303.0C652.2,301.5 653.8,300.0 656.0,299.0C658.2,298.0 660.8,297.1 663.0,297.0C665.2,296.9 667.5,297.7 669.0,298.5C670.5,299.3 671.2,300.4 672.0,302.0C672.8,303.6 673.2,306.0 674.0,308.0C674.8,310.0 675.5,312.1 676.5,314.0C677.5,315.9 678.6,317.9 680.0,319.5C681.4,321.1 683.0,322.6 685.0,323.5C687.0,324.4 689.5,324.8 692.0,325.0C694.5,325.2 697.5,325.0 700.0,324.5C702.5,324.0 704.8,323.2 707.0,322.0C709.2,320.8 711.0,319.1 713.0,317.5C715.0,315.9 717.3,314.2 719.0,312.5C720.7,310.8 721.8,308.9 723.0,307.0C724.2,305.1 725.4,302.8 726.0,301.0C726.6,299.2 726.8,297.5 726.5,296.0C726.2,294.5 725.2,293.3 724.0,292.0C722.8,290.7 720.7,289.5 719.0,288.0C717.3,286.5 715.5,284.8 714.0,283.0C712.5,281.2 711.3,279.5 710.0,277.5C708.7,275.5 707.2,273.2 706.0,271.0C704.8,268.8 703.8,266.7 703.0,264.0C702.2,261.3 701.9,257.3 701.5,255.0C701.1,252.7 700.6,251.7 700.5,250.0C700.4,248.3 700.7,247.2 701.0,245.0C701.3,242.8 702.2,239.7 702.5,237.0C702.8,234.3 703.2,231.2 703.0,229.0C702.8,226.8 701.9,225.7 701.0,224.0C700.1,222.3 698.7,220.2 697.5,219.0C696.3,217.8 695.4,216.8 694.0,216.5C692.6,216.2 690.7,216.7 689.0,217.5C687.3,218.3 685.2,219.7 684.0,221.5C682.8,223.3 682.9,226.3 682.0,228.5C681.1,230.7 679.6,232.4 678.5,234.5C677.4,236.6 676.4,239.1 675.5,241.0C674.6,242.9 673.8,244.7 673.0,246.0C672.2,247.3 671.4,248.0 670.5,249.0C669.6,250.0 668.5,250.8 667.5,252.0C666.5,253.2 665.3,254.7 664.5,256.0C663.7,257.3 662.8,258.5 662.5,260.0C662.2,261.5 663.0,263.0 662.5,265.0C662.0,267.0 660.8,270.7 659.5,272.0C658.2,273.3 656.2,273.8 655.0,273.0C653.8,272.2 652.8,269.3 652.0,267.0C651.2,264.7 651.2,261.0 650.5,259.0C649.8,257.0 648.8,256.2 648.0,255.0C647.2,253.8 646.8,253.8 646.0,252.0C645.2,250.2 644.1,246.5 643.0,244.0C641.9,241.5 640.8,239.1 639.5,237.0C638.2,234.9 636.4,232.7 635.0,231.5C633.6,230.3 632.3,230.1 631.0,230.0C629.7,229.9 628.7,230.2 627.0,231.0C625.3,231.8 623.2,233.3 621.0,235.0C618.8,236.7 616.5,239.1 614.0,241.0C611.5,242.9 608.7,245.0 606.0,246.5C603.3,248.0 600.7,249.1 598.0,250.0C595.3,250.9 592.3,251.6 590.0,252.0C587.7,252.4 586.7,252.0 584.0,252.5C581.3,253.0 577.3,254.2 574.0,255.0C570.7,255.8 567.0,256.6 564.0,257.5C561.0,258.4 558.2,259.4 556.0,260.5C553.8,261.6 552.8,262.6 551.0,264.0C549.2,265.4 547.6,267.3 545.5,269.0C543.4,270.7 541.1,272.8 538.5,274.0C535.9,275.2 532.4,276.0 530.0,276.0C527.6,276.0 526.3,274.8 524.0,274.0C521.7,273.2 518.7,272.3 516.0,271.5C513.3,270.7 510.7,269.8 508.0,269.0C505.3,268.2 502.7,267.5 500.0,267.0C497.3,266.5 494.2,266.6 492.0,266.0C489.8,265.4 487.8,265.0 486.5,263.5C485.2,262.0 484.6,259.2 484.0,257.0C483.4,254.8 483.5,252.3 483.0,250.0C482.5,247.7 482.0,245.5 481.0,243.0C480.0,240.5 478.2,237.3 477.0,235.0C475.8,232.7 474.8,231.0 473.5,229.0C472.2,227.0 470.5,225.0 469.0,223.0C467.5,221.0 465.8,219.2 464.5,217.0C463.2,214.8 461.8,212.5 461.0,210.0C460.2,207.5 459.6,204.8 459.5,202.0C459.4,199.2 460.1,195.9 460.5,193.0C460.9,190.1 461.8,188.3 462.0,184.5C462.2,180.7 469.0,172.4 462.0,170.0C455.0,167.6 427.0,167.6 420.0,170.0ZM458.0,313.5C459.7,312.3 464.0,311.4 466.0,311.0C468.0,310.6 468.2,311.0 470.0,310.9C471.8,310.8 474.7,310.4 477.0,310.2C479.3,310.0 481.8,309.4 484.0,309.5C486.2,309.6 488.6,309.9 490.3,310.5C492.1,311.1 493.4,312.1 494.5,313.0C495.6,313.9 496.5,314.8 496.6,315.8C496.7,316.9 495.9,318.1 495.2,319.3C494.5,320.5 493.4,321.5 492.4,322.8C491.3,324.1 489.9,325.5 488.9,327.0C487.8,328.5 487.0,330.1 486.1,331.9C485.2,333.6 484.0,336.0 483.3,337.5C482.6,339.0 482.4,339.4 481.9,341.0C481.4,342.6 481.1,345.2 480.5,347.0C479.9,348.8 479.6,350.5 478.5,352.0C477.4,353.5 476.1,354.8 474.0,356.0C471.9,357.2 468.7,358.2 466.0,359.0C463.3,359.8 460.5,360.8 458.0,361.0C455.5,361.2 453.0,360.8 451.0,360.0C449.0,359.2 447.2,357.7 446.0,356.0C444.8,354.3 444.2,352.2 444.0,350.0C443.8,347.8 444.3,345.2 445.0,343.0C445.7,340.8 446.8,338.8 448.0,337.0C449.2,335.2 450.5,333.3 452.0,332.0C453.5,330.7 456.2,330.5 457.0,329.0C457.8,327.5 457.2,324.8 457.0,323.0C456.8,321.2 455.8,319.6 456.0,318.0C456.2,316.4 456.3,314.7 458.0,313.5ZM806.0,355.0C803.8,355.7 802.0,358.0 800.0,360.0C798.0,362.0 795.8,364.5 794.0,367.0C792.2,369.5 790.3,372.3 789.0,375.0C787.7,377.7 786.2,380.8 786.0,383.0C785.8,385.2 786.7,387.3 788.0,388.0C789.3,388.7 791.8,387.8 794.0,387.0C796.2,386.2 798.7,384.5 801.0,383.0C803.3,381.5 805.8,379.8 808.0,378.0C810.2,376.2 812.3,374.2 814.0,372.0C815.7,369.8 817.4,367.2 818.0,365.0C818.6,362.8 818.4,360.6 817.6,359.0C816.8,357.4 814.9,356.3 813.0,355.6C811.1,354.9 808.2,354.3 806.0,355.0Z"/>
<path fill="#00c8c8" d="M441.0,170.0C439.7,172.2 441.2,178.8 441.0,183.0C440.8,187.2 440.0,191.3 440.0,195.0C440.0,198.7 440.3,202.2 441.0,205.0C441.7,207.8 442.8,210.7 444.0,212.0C445.2,213.3 447.0,213.7 448.0,213.0C449.0,212.3 449.7,211.0 450.0,208.0C450.3,205.0 450.2,199.2 450.0,195.0C449.8,190.8 449.2,187.2 449.0,183.0C448.8,178.8 450.3,172.2 449.0,170.0C447.7,167.8 442.3,167.8 441.0,170.0Z"/>
<path fill="#00dc00" d="M372.0,187.5C373.4,186.8 376.2,186.3 378.0,186.5C379.8,186.7 381.5,187.4 382.5,188.5C383.5,189.6 384.1,191.4 384.0,193.0C383.9,194.6 383.2,196.8 382.0,198.0C380.8,199.2 378.7,200.2 377.0,200.5C375.3,200.8 373.3,200.2 372.0,199.5C370.7,198.8 369.4,197.4 369.0,196.0C368.6,194.6 369.0,192.4 369.5,191.0C370.0,189.6 370.6,188.2 372.0,187.5ZM466.0,335.5C467.2,335.7 469.2,337.6 470.0,339.0C470.8,340.4 471.2,342.3 471.0,344.0C470.8,345.7 469.9,347.9 469.0,349.0C468.1,350.1 466.7,350.7 465.5,350.5C464.3,350.3 462.8,349.2 462.0,348.0C461.2,346.8 460.9,344.7 461.0,343.0C461.1,341.3 461.7,339.2 462.5,338.0C463.3,336.8 464.8,335.3 466.0,335.5ZM410.0,222.0C411.2,219.5 413.8,216.4 416.0,215.0C418.2,213.6 420.5,213.8 423.0,213.5C425.5,213.2 429.3,212.8 431.0,213.5C432.7,214.2 431.8,216.6 433.0,218.0C434.2,219.4 436.0,220.8 438.0,222.0C440.0,223.2 442.2,224.3 445.0,225.0C447.8,225.7 452.2,225.7 455.0,226.0C457.8,226.3 460.5,226.3 462.0,227.0C463.5,227.7 463.5,228.5 464.0,230.0C464.5,231.5 464.7,234.0 465.0,236.0C465.3,238.0 465.8,239.7 466.0,242.0C466.2,244.3 465.9,247.3 466.0,250.0C466.1,252.7 466.2,254.7 466.5,258.0C466.8,261.3 467.4,266.7 467.5,270.0C467.6,273.3 467.6,275.8 467.0,278.0C466.4,280.2 465.5,281.8 464.0,283.0C462.5,284.2 460.3,285.0 458.0,285.5C455.7,286.0 453.0,286.1 450.0,286.2C447.0,286.3 443.3,286.1 440.0,286.0C436.7,285.9 433.3,285.8 430.0,285.5C426.7,285.2 422.8,284.4 420.0,284.0C417.2,283.6 414.5,284.2 413.0,283.0C411.5,281.8 411.6,279.2 411.0,277.0C410.4,274.8 409.9,272.5 409.5,270.0C409.1,267.5 408.7,265.3 408.5,262.0C408.3,258.7 408.4,253.7 408.5,250.0C408.6,246.3 408.9,243.3 409.0,240.0C409.1,236.7 408.8,233.0 409.0,230.0C409.2,227.0 408.8,224.5 410.0,222.0ZM595.0,256.5C593.3,257.5 592.5,258.8 590.0,260.0C587.5,261.2 583.3,263.0 580.0,264.0C576.7,265.0 573.3,265.3 570.0,266.0C566.7,266.7 563.3,267.2 560.0,268.0C556.7,268.8 553.0,269.8 550.0,271.0C547.0,272.2 544.7,273.5 542.0,275.0C539.3,276.5 536.5,278.3 534.0,280.0C531.5,281.7 528.8,283.2 527.0,285.0C525.2,286.8 523.9,288.7 523.0,291.0C522.1,293.3 521.6,296.3 521.5,299.0C521.4,301.7 521.9,304.3 522.5,307.0C523.1,309.7 523.9,312.5 525.0,315.0C526.1,317.5 527.5,320.0 529.0,322.0C530.5,324.0 532.2,325.8 534.0,327.0C535.8,328.2 538.2,329.3 540.0,329.5C541.8,329.7 543.5,328.9 545.0,328.0C546.5,327.1 547.8,325.7 549.0,324.0C550.2,322.3 551.0,320.0 552.0,318.0C553.0,316.0 553.8,313.7 555.0,312.0C556.2,310.3 557.3,309.2 559.0,308.0C560.7,306.8 563.2,305.6 565.0,305.0C566.8,304.4 568.5,304.8 570.0,304.5C571.5,304.2 572.7,303.9 574.0,303.2C575.3,302.4 576.5,301.1 578.0,300.0C579.5,298.9 581.2,297.7 582.8,296.8C584.4,295.9 585.9,294.9 587.6,294.4C589.3,293.9 591.7,293.3 593.2,293.6C594.7,293.9 595.2,295.1 596.4,296.0C597.6,296.9 598.9,298.3 600.4,299.2C601.9,300.1 603.5,300.9 605.2,301.6C606.9,302.3 608.8,302.7 610.8,303.2C612.8,303.7 615.2,304.3 617.2,304.8C619.2,305.3 620.9,305.9 622.8,306.4C624.7,306.9 627.1,307.1 628.4,307.6C629.7,308.1 629.9,310.2 630.8,309.6C631.7,309.0 632.9,305.7 634.0,304.0C635.1,302.3 636.1,300.8 637.2,299.2C638.3,297.6 639.3,296.1 640.4,294.4C641.5,292.7 642.9,290.5 643.6,288.8C644.3,287.1 644.6,286.1 644.8,284.0C644.9,281.9 644.5,278.7 644.5,276.0C644.5,273.3 644.9,269.8 644.5,268.0C644.1,266.2 643.2,265.7 642.0,265.0C640.8,264.3 638.3,264.8 637.0,264.0C635.7,263.2 634.7,261.7 634.0,260.0C633.3,258.3 634.0,255.6 633.0,254.0C632.0,252.4 630.2,251.2 628.0,250.5C625.8,249.8 623.0,249.9 620.0,250.0C617.0,250.1 613.3,250.3 610.0,251.0C606.7,251.7 602.5,253.1 600.0,254.0C597.5,254.9 596.7,255.5 595.0,256.5ZM682.0,234.0C683.2,232.7 684.9,231.9 686.0,232.0C687.1,232.1 687.9,233.2 688.5,234.5C689.1,235.8 689.5,237.8 689.5,240.0C689.5,242.2 688.9,245.3 688.5,248.0C688.1,250.7 687.6,253.7 687.0,256.0C686.4,258.3 685.5,260.0 685.0,262.0C684.5,264.0 683.8,266.2 684.0,268.0C684.2,269.8 684.8,271.6 686.0,273.0C687.2,274.4 689.3,275.3 691.0,276.5C692.7,277.7 694.7,278.4 696.0,280.0C697.3,281.6 698.3,283.7 699.0,286.0C699.7,288.3 700.0,291.3 700.0,294.0C700.0,296.7 699.6,299.5 699.0,302.0C698.4,304.5 697.4,307.2 696.5,309.0C695.6,310.8 694.6,313.3 693.5,313.0C692.4,312.7 691.4,309.3 690.0,307.0C688.6,304.7 686.5,301.7 685.0,299.0C683.5,296.3 682.1,293.7 681.0,291.0C679.9,288.3 678.8,285.7 678.5,283.0C678.2,280.3 678.6,277.3 679.0,275.0C679.4,272.7 681.2,271.0 681.0,269.0C680.8,267.0 678.8,265.2 678.0,263.0C677.2,260.8 676.2,258.2 676.0,256.0C675.8,253.8 676.5,252.7 677.0,250.0C677.5,247.3 678.2,242.7 679.0,240.0C679.8,237.3 680.8,235.3 682.0,234.0ZM555.5,336.0C556.4,336.2 557.9,337.2 558.5,338.0C559.1,338.8 559.3,340.1 559.0,341.0C558.7,341.9 557.5,343.2 556.5,343.5C555.5,343.8 553.8,343.2 553.0,342.5C552.2,341.8 552.0,340.4 552.0,339.5C552.0,338.6 552.4,337.6 553.0,337.0C553.6,336.4 554.6,335.8 555.5,336.0ZM790.0,367.0C791.0,365.5 795.3,364.8 798.0,365.0C800.7,365.2 803.8,366.7 806.0,368.0C808.2,369.3 810.3,371.0 811.0,373.0C811.7,375.0 811.2,378.3 810.0,380.0C808.8,381.7 806.2,383.0 804.0,383.0C801.8,383.0 799.0,381.5 797.0,380.0C795.0,378.5 793.2,376.2 792.0,374.0C790.8,371.8 789.0,368.5 790.0,367.0Z"/>
<path fill="#a0e632" d="M410.0,250.0C410.3,247.8 412.0,244.2 413.0,242.0C414.0,239.8 414.5,238.0 416.0,237.0C417.5,236.0 419.7,236.1 422.0,236.0C424.3,235.9 427.0,236.2 430.0,236.5C433.0,236.8 437.7,237.1 440.0,237.5C442.3,237.9 442.3,238.9 444.0,239.0C445.7,239.1 448.3,238.1 450.0,238.0C451.7,237.9 452.9,237.8 454.0,238.5C455.1,239.2 456.2,240.6 456.5,242.0C456.8,243.4 456.6,245.3 456.0,247.0C455.4,248.7 454.3,250.5 453.0,252.0C451.7,253.5 449.7,254.7 448.0,256.0C446.3,257.3 444.3,258.3 443.0,260.0C441.7,261.7 441.0,264.0 440.0,266.0C439.0,268.0 438.2,270.4 437.0,272.0C435.8,273.6 435.0,274.8 433.0,275.5C431.0,276.2 427.5,276.1 425.0,276.0C422.5,275.9 419.8,276.0 418.0,275.0C416.2,274.0 415.0,272.2 414.0,270.0C413.0,267.8 412.5,264.5 412.0,262.0C411.5,259.5 411.3,257.0 411.0,255.0C410.7,253.0 409.7,252.2 410.0,250.0ZM559.0,284.0C559.0,282.5 560.7,281.2 562.0,280.0C563.3,278.8 565.0,277.4 567.0,277.0C569.0,276.6 571.7,277.6 574.0,277.5C576.3,277.4 579.0,277.2 581.0,276.5C583.0,275.8 584.5,274.3 586.0,273.0C587.5,271.7 588.8,269.7 590.0,268.5C591.2,267.3 591.7,266.9 593.0,266.0C594.3,265.1 596.2,263.8 598.0,263.0C599.8,262.2 602.2,261.6 604.0,261.5C605.8,261.4 607.3,261.9 609.0,262.5C610.7,263.1 612.5,264.1 614.0,265.0C615.5,265.9 616.7,267.5 618.0,268.0C619.3,268.5 620.5,267.7 622.0,268.0C623.5,268.3 625.3,269.2 627.0,270.0C628.7,270.8 630.6,271.7 632.0,273.0C633.4,274.3 634.7,276.0 635.5,278.0C636.3,280.0 636.9,283.2 637.0,285.0C637.1,286.8 636.9,287.4 636.4,288.8C635.9,290.2 635.2,292.3 634.0,293.6C632.8,294.9 631.1,296.1 629.2,296.8C627.3,297.5 624.9,297.8 622.8,298.0C620.7,298.2 618.5,298.2 616.4,298.0C614.3,297.8 612.1,297.4 610.0,296.8C607.9,296.2 605.6,295.3 603.6,294.4C601.6,293.5 599.9,292.3 598.0,291.2C596.1,290.1 594.4,288.9 592.4,288.0C590.4,287.1 588.1,286.1 586.0,285.6C583.9,285.1 581.7,284.9 580.0,284.8C578.3,284.8 577.3,285.0 576.0,285.3C574.7,285.6 573.2,285.7 572.0,286.5C570.8,287.3 570.0,289.0 569.0,290.0C568.0,291.0 567.2,292.7 566.0,292.5C564.8,292.3 563.2,290.4 562.0,289.0C560.8,287.6 559.0,285.5 559.0,284.0ZM542.0,284.5C542.9,284.2 545.1,285.8 546.0,287.0C546.9,288.2 547.4,290.0 547.5,292.0C547.6,294.0 547.0,296.7 546.5,299.0C546.0,301.3 545.2,304.0 544.5,306.0C543.8,308.0 543.2,310.5 542.5,311.0C541.8,311.5 540.9,310.5 540.5,309.0C540.1,307.5 540.0,304.3 540.0,302.0C540.0,299.7 540.4,297.2 540.5,295.0C540.6,292.8 540.2,290.8 540.5,289.0C540.8,287.2 541.1,284.8 542.0,284.5Z"/>
<path fill="#e6dc32" d="M415.8,249.0C416.3,248.5 417.4,250.5 418.0,252.0C418.6,253.5 419.3,256.2 419.4,258.0C419.5,259.8 419.3,262.0 418.8,262.5C418.3,263.0 417.1,262.2 416.5,261.0C415.9,259.8 415.1,257.0 415.0,255.0C414.9,253.0 415.3,249.5 415.8,249.0ZM599.0,274.0C599.5,272.8 601.3,270.7 603.0,270.0C604.7,269.3 607.0,269.5 609.0,270.0C611.0,270.5 613.0,271.8 615.0,273.0C617.0,274.2 619.2,275.7 621.0,277.0C622.8,278.3 624.9,279.7 626.0,281.0C627.1,282.3 627.7,283.7 627.5,285.0C627.3,286.3 626.4,288.1 625.0,289.0C623.6,289.9 621.0,290.5 619.0,290.5C617.0,290.5 614.8,290.0 613.0,289.0C611.2,288.0 609.7,286.0 608.0,284.5C606.3,283.0 604.3,281.2 603.0,280.0C601.7,278.8 600.7,278.0 600.0,277.0C599.3,276.0 598.5,275.2 599.0,274.0Z"/>
<path fill="#e6af2d" d="M619.5,281.5C620.2,281.2 622.0,281.4 623.0,281.8C624.0,282.2 625.1,283.2 625.3,284.0C625.5,284.8 624.8,286.0 624.0,286.3C623.2,286.6 621.4,286.4 620.5,286.0C619.6,285.6 618.7,284.6 618.5,283.8C618.3,283.1 618.8,281.8 619.5,281.5Z"/>
<path d="M390.5,212V221.5" stroke="#f4e6f8" stroke-width="1.4" fill="none"/>
</g>
<g clip-path="url(#fr)" fill="none" stroke="#000" stroke-width="1" stroke-linejoin="round" shape-rendering="crispEdges">
<path d="M127.0,324.0L131.0,323.0L135.0,316.0L137.0,308.0L137.0,300.0L135.0,297.0L136.0,290.0L139.0,285.0L142.0,283.0L144.0,286.0L147.0,284.0L150.0,278.0L151.0,274.0L157.0,273.0L160.0,268.0L164.0,266.0L168.0,261.0L171.0,256.0L175.0,253.0L179.0,248.0L182.0,245.6L190.0,246.4L196.0,247.6L200.0,247.0L202.0,244.4L208.0,244.0L214.0,245.6L220.0,248.0L224.0,249.6L232.0,248.0L240.0,247.0L250.0,246.0L252.0,244.0L256.0,248.0L262.0,249.6L268.0,250.0L273.0,251.0L276.0,250.0L278.0,246.0L274.0,244.0L278.0,241.0L280.0,236.0L281.0,231.0L282.0,228.0L286.0,223.0L294.0,219.0L304.0,217.0L314.0,216.6L323.0,218.0L332.0,220.0L340.0,222.0L348.0,223.6L356.0,225.6L362.0,229.0L366.0,230.0L369.0,229.0L374.0,228.0L380.0,230.0L384.0,229.6L388.0,231.6L392.0,233.0L398.0,232.0L404.0,231.0L412.0,231.6L420.0,233.0L428.0,235.6L434.0,236.4L440.0,235.6L444.0,237.0L445.0,240.0L448.0,240.0L448.4,237.0L454.0,238.0L460.0,241.0L461.0,243.6L464.0,244.0L465.0,241.0L470.0,241.0L476.0,243.0L480.0,244.0L488.0,243.0L495.0,239.0L502.0,241.0L510.0,243.0L518.0,245.0L526.0,247.0L529.0,251.0L536.0,253.0L540.0,252.0L544.0,253.0L548.0,257.0L554.0,261.0L560.0,263.6L566.0,265.6L572.0,264.4L580.0,262.4L588.0,261.0L592.0,261.6L600.0,265.0L608.0,266.0L614.0,267.6L620.0,269.0L624.0,265.6L630.0,264.0L638.0,264.4L643.0,265.0L644.0,270.0L641.0,275.0L643.0,280.0L646.0,284.0L649.0,281.6L652.0,285.0L656.0,289.0L660.0,294.0L666.0,300.0L672.0,303.0L674.0,310.0L677.0,318.0L680.0,325.0L688.0,326.0L696.0,326.0L704.0,328.0L707.0,327.0L714.0,329.0L718.0,333.0L721.0,338.0L724.0,342.0L728.0,345.0L734.0,345.6L740.0,345.0L746.0,343.0L749.0,347.0L752.0,351.0L756.0,356.0L760.0,357.0L765.0,355.0L770.0,358.0L774.0,359.0L778.0,355.0L784.0,354.0L788.0,356.0L792.0,361.0L794.0,363.0L800.0,365.0L808.0,366.0L816.0,368.0L824.0,369.6L829.0,374.0L832.0,377.0L837.0,378.0L840.0,386.0L844.0,394.0L848.0,403.0L852.0,410.0L855.0,418.0L858.0,425.0L856.0,432.0L860.0,436.0L863.0,442.0L867.0,448.0L870.0,454.0L873.0,460.0L874.0,466.0L877.0,471.0L882.0,473.0L886.0,474.0L887.0,478.0L890.0,480.0L890.0,485.0L887.0,487.0L885.0,483.0L880.0,484.0L876.0,487.0L870.0,491.0L864.0,493.0L858.0,495.0L852.0,498.0L847.0,501.0L843.0,500.0L843.0,494.0L845.0,491.0L840.0,494.0L837.0,498.0L837.0,503.0L834.0,505.0L831.0,503.0L824.0,500.0L818.0,498.0L812.0,497.0L806.0,499.0L800.0,500.0L794.0,500.0L788.0,501.0L782.0,502.4L778.0,504.0L775.0,507.0L770.0,509.0L766.0,508.0L764.0,504.0L761.0,500.0L754.0,500.4L746.0,501.0L742.0,499.0L739.0,494.0L737.0,488.0L732.0,481.0L726.0,475.0L720.0,471.0L714.0,468.0L708.0,467.0L700.0,468.0L698.0,464.0L694.0,460.0L688.0,458.0L680.0,459.0L674.0,458.0L668.0,454.0L664.0,450.0L661.0,446.0L660.0,450.0L656.0,456.0L652.0,462.0L649.0,466.0L648.0,470.0L649.0,476.0L646.0,482.0L643.0,486.0L641.0,490.0L639.0,496.0L636.0,502.0L632.0,507.0L628.0,511.0L622.0,514.0L617.0,513.0L616.0,509.0L611.0,512.0L606.0,513.0L602.0,509.0L597.0,508.0L594.0,509.6L591.0,511.5L591.0,509.0L592.0,506.0L594.0,504.0L595.0,500.0L594.0,495.0L591.0,491.0L588.0,487.0L585.0,485.0L582.0,485.6L579.0,486.0L578.0,483.0L576.0,483.0L575.0,488.0L573.0,485.6L570.0,486.0L565.0,488.0L561.0,490.0L557.0,494.0L554.0,498.0L551.0,503.0L550.0,510.0L548.0,515.0L549.0,519.0L550.0,521.6L554.0,521.6L554.0,524.0L550.0,523.0L547.0,523.0L544.0,525.0L543.0,529.0L544.0,534.0L546.0,538.0L546.0,542.0L549.0,544.0L554.0,545.0L556.0,546.0L554.0,548.0L555.0,551.0L558.0,554.0L561.0,557.0L561.0,562.0L558.0,566.0L554.0,570.0L547.0,572.0L541.0,571.0L534.0,569.0L528.0,565.0L523.0,560.0L518.0,554.0L515.0,550.0L514.0,545.0L510.0,542.0L504.0,539.0L500.0,533.0L496.0,528.0L492.0,523.0L488.0,519.0L483.0,516.0L478.0,514.0L472.0,511.0L467.0,507.0L462.0,504.0L452.0,503.6L444.0,504.4L436.0,508.0L429.0,511.0L424.0,512.0L418.0,508.0L412.0,503.6L406.0,501.6L400.0,502.0L394.0,504.0L388.0,503.0L380.0,503.0L374.0,504.4L368.0,505.0L360.0,504.0L352.0,505.6L346.0,508.0L346.0,504.0L343.0,501.0L338.0,497.0L332.0,492.0L327.0,486.0L326.0,481.0L323.0,476.0L318.0,472.0L312.0,468.0L312.0,462.0L311.0,456.0L313.0,450.0L314.0,444.0L312.0,439.0L308.0,435.0L302.0,432.0L296.0,430.0L290.0,429.0L284.0,431.0L278.0,430.0L274.0,424.0L271.0,415.0L267.0,407.0L262.0,399.0L256.0,394.0L250.0,390.0L247.0,384.0L245.0,377.0L243.0,368.0L240.0,360.0L236.0,355.0L232.0,352.4L226.0,353.6L220.0,352.0L212.0,352.4L206.0,353.6L200.0,352.0L196.0,351.0L188.0,352.0L182.0,355.0L176.0,358.0L170.0,358.0L167.0,352.0L162.0,350.0L156.0,348.0L150.0,347.0L144.0,346.0L138.0,343.0L132.0,339.0L128.0,335.0L126.4,329.0Z"/>
<path d="M147.0,284.0L150.0,288.0L151.0,296.0L150.0,308.0L152.0,318.0L161.0,323.0L163.0,324.0L162.0,320.0L167.0,322.0M148.0,285.0L156.0,288.0L168.0,289.0L171.0,288.0M168.0,262.0L170.0,264.0L178.0,263.0L184.0,267.0L186.0,272.0L184.0,279.0L173.0,280.0L171.0,288.0L171.0,297.0L168.0,299.0L166.0,306.0L167.0,322.0L168.0,332.0L170.0,342.0L171.0,350.0L170.0,358.0M132.0,323.0L134.0,328.0L142.0,331.0L148.0,334.0L156.0,336.0L164.0,340.0L169.0,343.0M171.0,297.0L176.0,302.0L180.0,308.0L180.0,324.0L181.0,340.0L183.0,354.0M190.0,247.0L193.0,253.0L192.0,260.0L189.0,266.0L188.0,272.0L185.0,278.0L184.0,279.0M185.0,278.0L190.0,279.0L196.0,278.0L200.0,280.0L203.0,284.0L208.0,285.0L212.0,287.0L214.0,280.0L218.0,276.0L224.0,276.0L230.0,279.0L234.0,286.0L237.0,292.0L242.0,294.0L247.0,299.0L251.0,302.0M196.0,248.0L198.0,252.0L200.0,253.0L202.0,258.0L206.0,263.0L205.0,270.0L203.0,278.0L202.0,283.6M201.0,252.0L206.0,255.0L210.0,260.0L214.0,266.0L218.0,271.0L219.0,276.0M222.0,250.0L223.0,258.0L220.0,266.0L221.0,271.0L219.0,276.0M252.0,245.0L253.0,256.0L252.0,266.0L249.6,268.0L251.0,278.0L252.0,284.0L250.0,292.0L251.0,302.0M251.0,302.0L248.0,303.0L244.0,308.0L243.0,316.0L238.0,322.0L229.0,328.0L224.0,326.0L216.0,330.0L209.0,338.0L204.0,344.0L201.0,352.0M251.0,302.0L256.0,308.0L263.0,311.0L260.0,320.0L257.0,328.0L256.0,334.0L248.0,337.0L240.0,339.0L235.0,344.0L233.0,352.0M263.0,311.0L268.0,314.0L274.0,322.0L280.0,330.0L285.0,338.0L286.0,346.0L284.0,356.0L287.0,362.0L291.0,360.0L295.0,358.0L296.0,352.0L300.0,348.0L301.0,340.0L303.0,334.0L301.0,328.0L303.0,321.0L308.0,320.0L316.0,321.0L323.0,324.0M287.0,362.0L292.0,370.0L297.0,378.0L301.0,385.0L302.0,394.0L299.0,402.0L295.0,410.0L292.0,419.0L290.0,429.0M288.0,361.0L294.0,357.0L297.0,352.0L300.0,348.0M303.0,334.0L312.0,336.0L315.0,344.0L317.0,352.0L319.0,360.0M273.0,251.0L272.0,256.0L276.0,260.0L284.0,263.0L294.0,264.0L304.0,267.0L308.0,268.0L310.0,276.0L311.0,284.0L320.0,285.0M280.0,233.0L286.0,232.0L292.0,230.0L296.0,234.0L304.0,232.0L314.0,230.4L323.0,230.0L330.0,230.4L338.0,235.0L344.0,240.0L350.0,241.4L356.0,240.0L362.0,237.0L366.0,234.0L367.0,230.0M323.0,218.0L323.0,230.0M323.0,230.0L326.0,236.0L331.0,243.0L333.0,249.0L331.0,255.0L335.0,260.0L342.0,263.0L339.0,266.0L332.0,269.0L327.0,274.0L323.0,280.0L321.0,285.0L317.0,289.0L315.0,296.0L316.0,302.0L319.0,309.0L320.0,316.0L323.0,324.0L326.0,330.0L331.0,336.0L338.0,341.0L346.0,346.0L354.0,345.0L362.0,341.0L370.0,336.0L377.0,330.0L382.0,330.0L386.0,332.0L392.0,331.0L400.0,330.0L408.0,331.0L416.0,332.0M388.0,233.0L389.0,240.0L392.0,247.0L407.0,248.0L407.0,233.0M407.0,248.0L412.0,256.0L416.0,264.0L417.0,270.0L414.0,278.0L412.0,286.0L410.0,296.0L410.0,306.0L412.0,314.0L414.0,322.0L416.0,330.0L419.0,337.0L427.0,337.0L430.0,344.0L429.0,350.0L424.0,356.0L420.0,352.0L414.0,349.0L406.0,349.0L400.0,354.0L399.0,360.0L399.0,368.0L399.0,380.0L400.0,392.4M313.0,340.0L315.0,348.0L319.0,356.0L324.0,364.0L328.0,372.0L334.0,378.0L337.0,386.0L339.0,394.0L338.0,397.0L345.0,404.0L347.0,409.0M292.0,419.0L298.0,416.0L304.0,415.0L307.0,408.0L310.0,402.0L315.0,399.0L319.0,394.0L317.0,388.0L316.0,383.0L318.0,382.0L321.0,387.0L323.0,393.0L326.0,395.0L332.0,396.0L338.0,397.0M347.0,409.0L346.0,417.0L349.0,424.0L348.0,431.0L352.0,438.0L356.0,446.0L359.0,454.0L361.0,462.0L363.0,470.0L366.0,478.0L368.0,483.0M347.0,409.0L352.0,402.0L358.0,396.0L362.0,393.0L368.0,395.0L374.0,392.0L379.0,387.0L382.0,386.0L385.0,391.0L390.0,393.0L400.0,392.4M400.0,392.4L398.0,400.0L397.0,408.0L400.0,418.0L402.0,428.0L405.0,438.0L409.0,446.0L411.0,452.0L412.0,460.0L415.0,466.0L417.0,471.0L414.0,478.0L410.0,484.0L406.0,490.0L403.0,496.0L400.0,502.0M311.0,456.0L318.0,455.0L326.0,455.0L331.0,458.0L334.0,465.0L336.0,472.0L342.0,478.0L350.0,481.0L358.0,482.0L368.0,483.0L374.0,485.0L379.0,488.0L376.0,495.0L375.0,504.0M379.0,488.0L382.0,481.0L387.0,480.0L390.0,476.0L392.0,468.0L395.0,460.0L402.0,454.0L408.0,453.0L411.0,452.0M417.0,471.0L428.0,471.0L438.0,474.0L448.0,477.0L456.0,478.0L464.0,477.0L471.0,477.0L475.0,483.0L477.0,492.0L477.0,500.0L475.0,507.0L472.0,510.5M540.0,252.4L539.0,264.0L539.0,276.0L539.6,288.0L541.0,300.0L540.0,308.0L537.0,316.0L536.0,324.0L538.0,336.0L539.0,348.0L539.0,353.0M460.0,358.0L464.0,354.0L470.0,352.0L476.0,354.0L482.0,358.0L488.0,362.0L494.0,363.0L500.0,362.0L510.0,360.0L520.0,358.0L530.0,355.0L539.0,353.0L548.0,353.6L556.0,353.0L564.0,351.0L572.0,350.0L580.0,348.0L588.0,344.0L596.0,340.0L602.0,337.0L606.0,334.4L612.0,333.0L618.0,331.0L624.0,330.0L630.0,331.0L634.0,326.0L640.0,322.0L646.0,317.0L652.0,313.0L660.0,311.0L666.0,309.0L672.0,308.0L674.0,310.0M590.0,261.0L589.6,272.0L592.0,280.0L596.0,290.0L600.0,302.0L602.0,314.0L603.0,324.0L604.0,330.0L606.0,334.4M602.0,265.6L603.0,274.0L606.0,282.0L611.0,290.0L618.0,298.0L624.0,304.0L630.0,309.0M643.0,280.0L644.0,288.0L640.0,296.0L634.0,304.0L630.0,309.0L631.0,316.0L633.0,322.0L634.0,326.0M618.0,331.0L624.0,336.0L626.0,342.0L631.0,348.0L635.0,352.0L634.0,360.0L636.0,366.0L641.0,370.0L643.0,374.0L648.0,372.0L651.0,378.0L656.0,386.0L660.0,394.0L662.0,402.0L664.0,406.0M430.0,368.0L425.0,364.0L422.0,356.0M446.0,388.0L452.0,392.0L458.0,398.0L466.0,404.0L474.0,407.0L482.0,408.0L490.0,408.0L496.0,411.0L502.0,415.0L506.0,422.0L511.0,425.0L515.0,420.0L519.0,420.0L522.0,426.0L526.0,431.0L530.0,435.0L536.0,439.0L540.0,435.0L544.0,433.0L549.0,434.0M430.0,368.0L436.0,374.0L440.0,380.0L446.0,388.0M530.0,435.0L532.0,442.0L530.0,450.0L524.0,455.0L516.0,459.0L508.0,462.0L510.0,470.0L512.0,481.0L509.0,484.0L508.0,492.0L507.0,502.0L506.0,506.0L499.0,508.0L491.0,510.0L486.0,513.0L483.0,516.0M549.0,434.0L544.0,438.0L539.0,442.0L536.0,450.0L534.0,460.0L533.0,470.0L533.0,478.0L534.0,487.0L535.0,497.0L534.0,505.0L532.0,511.0L530.0,515.0L526.0,522.0L522.0,527.0L518.0,532.0L518.0,538.0L515.0,543.0L514.0,545.0M530.0,515.0L539.0,515.0L548.0,515.0M549.0,417.0L549.0,426.0L549.0,434.0L548.0,442.0L550.0,450.0L552.0,458.0L554.0,466.0L556.0,474.0L558.0,482.0L558.0,489.0L558.0,492.0M549.0,417.0L556.0,416.4L558.0,426.0L559.0,434.0L560.0,446.0L562.0,456.0L565.0,466.0L569.0,475.0L572.0,482.0L573.0,485.6M539.0,353.0L538.0,362.0L536.0,372.0L536.0,380.0L538.0,386.0L536.0,392.0L540.0,398.0L546.0,402.0L553.0,406.0L560.0,407.0L566.0,406.0L570.0,407.0L576.0,412.0L582.0,415.0L588.0,417.0L594.0,414.0L600.0,408.0L604.0,406.0L612.0,405.0L620.0,404.0L626.0,403.0L634.0,402.0L640.0,405.0L646.0,408.0L652.0,410.0L658.0,409.0L664.0,406.0L668.0,406.0L669.0,410.0L666.0,413.0L662.0,412.0L656.0,413.0L655.0,418.0L659.0,423.0L658.0,430.0L658.0,438.0L660.0,444.0L661.0,446.0M553.0,406.0L555.0,412.0L556.0,416.4M540.0,434.0L546.0,433.0L549.0,436.0L544.0,440.0L540.0,443.0M582.0,415.0L586.0,422.0L589.0,430.0L585.0,436.0L584.0,446.0L584.0,458.0L585.0,470.0L585.0,485.0M589.0,430.0L594.0,434.0L600.0,440.0L606.0,445.0L612.0,450.0L620.0,455.0L628.0,457.0L636.0,458.0L642.0,460.0L648.0,464.0L649.0,466.0M626.0,403.0L625.0,410.0L627.0,418.0L631.0,424.0L634.0,430.0L640.0,434.0L646.0,437.0L650.0,442.0L653.0,447.0L656.0,450.0L659.0,448.0M592.0,490.0L593.0,485.0L598.0,484.0L600.0,479.0L606.0,477.0L614.0,476.0L620.0,474.0L621.0,470.0L626.0,469.6L632.0,471.0L636.0,474.0L639.0,479.0L642.0,482.0L646.0,482.0M642.0,482.0L641.0,474.0L642.0,468.0L645.0,464.0L649.0,466.0M680.0,325.0L677.0,336.0L676.0,348.0L680.0,356.0L685.0,364.0L688.0,374.0L691.0,382.0L694.0,392.0L698.0,402.0L702.0,409.0L705.0,412.0M692.0,326.0L693.0,334.0L690.0,344.0L692.0,352.0L689.0,360.0L693.0,368.0L692.0,376.0L690.0,382.0M706.0,328.0L709.0,332.0L716.0,335.0L714.0,340.0L708.0,344.0L702.0,347.0L700.0,352.0L699.0,356.0L704.0,364.0L703.0,372.0L698.0,378.0L691.0,382.0M728.0,345.0L727.0,354.0L722.0,362.0L718.0,369.0L714.0,376.0L710.0,382.0L709.0,390.0L712.0,398.0L716.0,402.0L712.0,406.0L707.0,410.0L710.0,416.0M741.0,345.0L743.0,350.0L740.0,358.0L738.0,366.0L739.0,374.0L740.0,382.0L744.0,390.0L741.0,400.0L738.0,408.0L740.0,414.0L746.0,420.0L751.0,424.0L750.0,430.0L746.0,436.0L745.0,442.0L749.0,448.0L753.0,452.0L751.0,458.0L753.0,464.0L760.0,466.0L763.0,470.0L762.0,476.0L756.0,480.0L753.0,486.0L753.0,494.0L753.0,500.0M756.0,356.0L757.0,362.0L762.0,366.0L766.0,372.0L767.0,382.0L765.0,390.0L758.0,396.0L756.0,404.0L754.0,412.0L752.0,420.0L751.0,424.0M778.0,355.0L784.0,360.0L786.0,368.0L789.0,374.0L794.0,378.0L800.0,382.0L806.0,388.0L810.0,394.0L814.0,400.0L817.0,408.0L818.0,416.0L822.0,424.0L827.0,432.0L832.0,439.0L836.0,443.0L842.0,447.0L848.0,451.0L854.0,455.0L858.0,453.0L862.0,452.0L866.0,456.0L872.0,458.0M810.0,370.0L812.0,376.0L809.0,382.0L806.0,388.0M822.0,424.0L832.0,420.0L840.0,417.0L848.0,413.0L851.0,410.0M836.0,443.0L829.0,444.0L822.0,446.0L816.0,444.0L810.0,441.0L804.0,442.0L798.0,439.0L795.0,441.0L792.0,448.0L793.0,456.0L796.0,462.0L797.0,468.0L802.0,472.0L806.0,476.0L808.0,482.0L811.0,488.0L813.0,494.0L812.0,497.0M808.0,476.0L814.0,474.0L820.0,476.0L828.0,475.0L830.0,472.0L836.0,474.0L840.0,472.0L845.0,473.0L848.0,478.0L854.0,479.0L860.0,480.0L866.0,480.0L872.0,478.0L878.0,477.0L882.0,476.0L886.0,475.0M751.0,424.0L760.0,429.0L768.0,430.0L774.0,427.0L780.0,424.0L788.0,425.0L796.0,425.0L799.0,428.0L800.0,434.0L798.0,439.0M763.0,470.0L768.0,473.0L771.0,480.0L776.0,485.0L782.0,487.0L788.0,485.0L794.0,485.0L798.0,490.0L800.0,496.0L801.0,500.0M720.0,442.0L724.0,448.0L723.0,454.0L730.0,460.0L735.0,468.0L736.0,476.0L733.0,482.0M668.0,409.0L674.0,414.0L677.0,420.0M677.0,414.0L683.0,412.0L689.0,414.0L693.0,418.0L695.0,410.0L698.0,402.0M686.0,370.0L689.0,376.0L692.0,382.0L695.0,390.0L696.0,400.0L699.0,407.0L694.0,410.0L692.0,416.0L688.0,417.0L684.0,413.0L678.0,411.0L677.0,418.0L673.0,419.0L669.0,415.0L666.0,413.0M688.0,417.0L691.0,424.0L695.0,428.0L694.0,433.0L688.0,434.0L684.0,432.0L680.0,435.0L674.0,440.0L668.0,446.0L664.0,450.0M686.0,437.0L689.0,444.0L693.0,450.0L698.0,456.0L702.0,462.0L703.0,467.0M699.0,407.0L704.0,409.0L710.0,416.0L714.0,424.0L718.0,431.0L716.0,436.0L720.0,444.0L724.0,450.0L727.0,456.0L732.0,462.0L734.0,470.0L732.0,478.0L735.0,484.0M716.0,436.0L710.0,434.0L706.0,437.0L706.0,441.0L701.0,443.0L703.0,450.0L706.0,456.0L708.0,462.0L709.0,467.0M724.0,450.0L720.0,453.0L716.0,459.0L714.0,463.0L718.0,468.0L723.0,471.0M705.0,412.0L709.0,405.0L712.0,398.0"/>
<path d="M661.0,472.0L663.0,469.0L666.0,470.5L669.0,469.0L672.0,471.5L675.0,470.0L678.0,472.0L681.0,470.0L684.0,470.5L687.0,468.0L690.0,469.5L693.0,468.5L696.0,469.5L700.0,468.0M661.0,446.0L659.0,450.0L656.0,454.0L653.0,459.0L650.0,463.0L649.0,466.0M795.0,363.5L798.0,365.0L801.0,364.5L804.0,366.5L807.0,366.0L810.0,368.0M514.0,545.0L516.0,549.0L518.0,553.0L519.0,555.0" stroke-width="2"/>
<path d="M528.0,541.0L534.0,536.5L539.0,532.0L541.0,529.0L544.0,530.0L544.0,535.0L544.0,540.0L546.0,543.0L551.0,544.5L555.0,545.6L556.0,547.0L550.0,548.0L544.0,549.0L541.0,546.0L535.0,544.5L530.0,543.0L528.0,541.0M539.0,532.0L540.0,538.0L541.0,546.0M541.0,529.0L543.0,536.0L546.0,543.0M540.0,538.0L546.0,539.0L550.0,544.0M544.0,547.0L548.0,546.0L551.0,548.0" stroke-width="1.3"/>
<path d="M381.0,230.0L385.0,229.6L387.0,231.5L386.0,234.0L382.0,233.6L380.6,232.0ZM580.0,492.7L582.0,492.7L582.4,495.0L580.4,495.4ZM585.0,498.0L588.0,497.6L590.0,500.0L589.6,504.0L587.0,504.4L585.6,501.6ZM550.0,522.4L554.6,522.4L555.0,524.6L550.6,524.8ZM363.0,229.0L366.0,228.6L368.0,230.0L366.5,232.0L364.0,231.5Z"/>
<circle cx="553.6" cy="510" r="0.9" fill="#000" stroke="none"/><circle cx="557" cy="517.6" r="0.9" fill="#000" stroke="none"/><circle cx="550" cy="523" r="0.9" fill="#000" stroke="none"/>
</g>
<g stroke="#a0a0a0" stroke-width="1" stroke-dasharray="2 6.3" fill="none">
<path d="M53,227.5H953"/><path d="M53,270.5H953"/><path d="M53,314.5H953"/><path d="M53,357.5H953"/><path d="M53,400.5H953"/><path d="M53,444.5H953"/><path d="M53,487.5H953"/><path d="M53,531.5H953"/><path d="M53,574.5H953"/><path d="M149.5,185V617"/><path d="M254.5,185V617"/><path d="M359.5,185V617"/><path d="M464.5,185V617"/><path d="M569.5,185V617"/><path d="M674.5,185V617"/><path d="M779.5,185V617"/><path d="M884.5,185V617"/></g>
<rect x="45" y="183" width="909" height="435" fill="none" stroke="#000" stroke-width="2"/>
<g stroke="#000" stroke-width="1"><path d="M41,183.5H45"/><path d="M41,227.5H45"/><path d="M41,270.5H45"/><path d="M41,314.5H45"/><path d="M41,357.5H45"/><path d="M41,400.5H45"/><path d="M41,444.5H45"/><path d="M41,487.5H45"/><path d="M41,531.5H45"/><path d="M41,574.5H45"/><path d="M41,618.5H45"/><path d="M45.5,618V622.5"/><path d="M149.5,618V622.5"/><path d="M254.5,618V622.5"/><path d="M359.5,618V622.5"/><path d="M464.5,618V622.5"/><path d="M569.5,618V622.5"/><path d="M674.5,618V622.5"/><path d="M779.5,618V622.5"/><path d="M884.5,618V622.5"/></g>
<g filter="url(#nf)">
<text class="lab" x="3" y="189.0" textLength="34" lengthAdjust="spacingAndGlyphs">18.6N</text><text class="lab" x="3" y="233.0" textLength="34" lengthAdjust="spacingAndGlyphs">18.5N</text><text class="lab" x="3" y="276.0" textLength="34" lengthAdjust="spacingAndGlyphs">18.4N</text><text class="lab" x="3" y="320.0" textLength="34" lengthAdjust="spacingAndGlyphs">18.3N</text><text class="lab" x="3" y="363.0" textLength="34" lengthAdjust="spacingAndGlyphs">18.2N</text><text class="lab" x="3" y="406.0" textLength="34" lengthAdjust="spacingAndGlyphs">18.1N</text><text class="lab" x="17" y="450.0" textLength="20" lengthAdjust="spacingAndGlyphs">18N</text><text class="lab" x="3" y="493.0" textLength="34" lengthAdjust="spacingAndGlyphs">17.9N</text><text class="lab" x="3" y="537.0" textLength="34" lengthAdjust="spacingAndGlyphs">17.8N</text><text class="lab" x="3" y="580.0" textLength="34" lengthAdjust="spacingAndGlyphs">17.7N</text><text class="lab" x="3" y="624.0" textLength="34" lengthAdjust="spacingAndGlyphs">17.6N</text>
<text class="lab" x="27.0" y="636" textLength="37" lengthAdjust="spacingAndGlyphs">78.6W</text><text class="lab" x="131.9" y="636" textLength="37" lengthAdjust="spacingAndGlyphs">78.3W</text><text class="lab" x="243.8" y="636" textLength="23" lengthAdjust="spacingAndGlyphs">78W</text><text class="lab" x="341.7" y="636" textLength="37" lengthAdjust="spacingAndGlyphs">77.7W</text><text class="lab" x="446.5" y="636" textLength="37" lengthAdjust="spacingAndGlyphs">77.4W</text><text class="lab" x="551.4" y="636" textLength="37" lengthAdjust="spacingAndGlyphs">77.1W</text><text class="lab" x="656.3" y="636" textLength="37" lengthAdjust="spacingAndGlyphs">76.8W</text><text class="lab" x="761.2" y="636" textLength="37" lengthAdjust="spacingAndGlyphs">76.5W</text><text class="lab" x="866.1" y="636" textLength="37" lengthAdjust="spacingAndGlyphs">76.2W</text>
<g stroke="#000" stroke-width="1" stroke-linejoin="miter">
<path d="M153.0,709.5L100.5,719.0L153.0,728.5Z" fill="#fff"/><rect x="153.0" y="709.5" width="53.3" height="19.0" fill="#aaaaaa"/><rect x="206.3" y="709.5" width="53.3" height="19.0" fill="#a000c8"/><rect x="259.6" y="709.5" width="53.3" height="19.0" fill="#6e00dc"/><rect x="312.9" y="709.5" width="53.3" height="19.0" fill="#1e3cff"/><rect x="366.2" y="709.5" width="53.3" height="19.0" fill="#00a0ff"/><rect x="419.5" y="709.5" width="53.3" height="19.0" fill="#00c8c8"/><rect x="472.8" y="709.5" width="53.3" height="19.0" fill="#00d28c"/><rect x="526.2" y="709.5" width="53.3" height="19.0" fill="#00dc00"/><rect x="579.5" y="709.5" width="53.3" height="19.0" fill="#a0e632"/><rect x="632.8" y="709.5" width="53.3" height="19.0" fill="#e6dc32"/><rect x="686.1" y="709.5" width="53.3" height="19.0" fill="#e6af2d"/><rect x="739.4" y="709.5" width="53.3" height="19.0" fill="#f08228"/><rect x="792.7" y="709.5" width="53.3" height="19.0" fill="#fa3c3c"/><path d="M846.0,709.5L900.5,719.0L846.0,728.5Z" fill="#f00082"/></g>
<text class="cb" x="149.2" y="746" textLength="7.5" lengthAdjust="spacingAndGlyphs">1</text><text class="cb" x="202.6" y="746" textLength="7.5" lengthAdjust="spacingAndGlyphs">5</text><text class="cb" x="250.9" y="746" textLength="17.5" lengthAdjust="spacingAndGlyphs">10</text><text class="cb" x="304.2" y="746" textLength="17.5" lengthAdjust="spacingAndGlyphs">15</text><text class="cb" x="357.5" y="746" textLength="17.5" lengthAdjust="spacingAndGlyphs">20</text><text class="cb" x="410.8" y="746" textLength="17.5" lengthAdjust="spacingAndGlyphs">25</text><text class="cb" x="464.1" y="746" textLength="17.5" lengthAdjust="spacingAndGlyphs">30</text><text class="cb" x="517.4" y="746" textLength="17.5" lengthAdjust="spacingAndGlyphs">50</text><text class="cb" x="570.7" y="746" textLength="17.5" lengthAdjust="spacingAndGlyphs">80</text><text class="cb" x="618.5" y="746" textLength="28.5" lengthAdjust="spacingAndGlyphs">110</text><text class="cb" x="671.8" y="746" textLength="28.5" lengthAdjust="spacingAndGlyphs">140</text><text class="cb" x="725.1" y="746" textLength="28.5" lengthAdjust="spacingAndGlyphs">180</text><text class="cb" x="778.4" y="746" textLength="28.5" lengthAdjust="spacingAndGlyphs">220</text><text class="cb" x="831.8" y="746" textLength="28.5" lengthAdjust="spacingAndGlyphs">250</text>
</g>
</svg>
</body></html>
